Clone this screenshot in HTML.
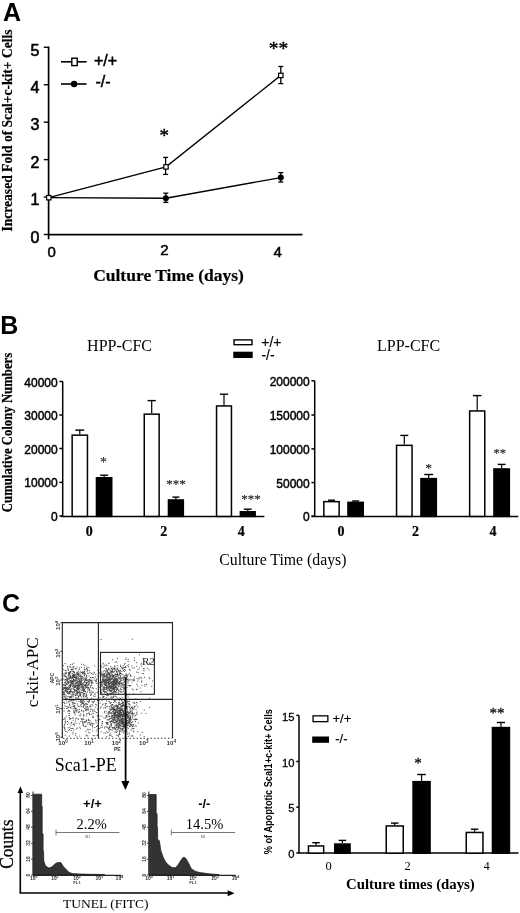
<!DOCTYPE html>
<html><head><meta charset="utf-8"><style>
html,body{margin:0;padding:0;background:#fff;}
svg{display:block;will-change:transform;}
</style></head><body>
<svg width="520" height="913" viewBox="0 0 520 913">
<text x="3" y="20.8" font-family="'Liberation Sans',sans-serif" font-size="25" font-weight="bold" text-anchor="start" >A</text>
<line x1="48.6" y1="46.5" x2="48.6" y2="239.3" stroke="#000" stroke-width="1.7"/>
<line x1="43.8" y1="234.5" x2="48.5" y2="234.5" stroke="#000" stroke-width="1.4"/>
<text x="39.5" y="242.8" font-family="'Liberation Sans',sans-serif" font-size="16" stroke="#000" stroke-width="0.6" text-anchor="end" >0</text>
<line x1="43.8" y1="197.06" x2="48.5" y2="197.06" stroke="#000" stroke-width="1.4"/>
<text x="39.5" y="205.36" font-family="'Liberation Sans',sans-serif" font-size="16" stroke="#000" stroke-width="0.6" text-anchor="end" >1</text>
<line x1="43.8" y1="159.62" x2="48.5" y2="159.62" stroke="#000" stroke-width="1.4"/>
<text x="39.5" y="167.92000000000002" font-family="'Liberation Sans',sans-serif" font-size="16" stroke="#000" stroke-width="0.6" text-anchor="end" >2</text>
<line x1="43.8" y1="122.18" x2="48.5" y2="122.18" stroke="#000" stroke-width="1.4"/>
<text x="39.5" y="130.48000000000002" font-family="'Liberation Sans',sans-serif" font-size="16" stroke="#000" stroke-width="0.6" text-anchor="end" >3</text>
<line x1="43.8" y1="84.74000000000001" x2="48.5" y2="84.74000000000001" stroke="#000" stroke-width="1.4"/>
<text x="39.5" y="93.04" font-family="'Liberation Sans',sans-serif" font-size="16" stroke="#000" stroke-width="0.6" text-anchor="end" >4</text>
<line x1="43.8" y1="47.30000000000001" x2="48.5" y2="47.30000000000001" stroke="#000" stroke-width="1.4"/>
<text x="39.5" y="55.60000000000001" font-family="'Liberation Sans',sans-serif" font-size="16" stroke="#000" stroke-width="0.6" text-anchor="end" >5</text>
<line x1="48" y1="234.6" x2="302.4" y2="234.6" stroke="#000" stroke-width="1.7"/>
<text x="51.7" y="257.3" font-family="'Liberation Sans',sans-serif" font-size="15" stroke="#000" stroke-width="0.5" text-anchor="middle" >0</text>
<text x="164.5" y="255" font-family="'Liberation Sans',sans-serif" font-size="15" stroke="#000" stroke-width="0.5" text-anchor="middle" >2</text>
<text x="277.7" y="256.7" font-family="'Liberation Sans',sans-serif" font-size="15" stroke="#000" stroke-width="0.5" text-anchor="middle" >4</text>
<polyline points="48.8,197.7 166,166.9 280.8,75.4" fill="none" stroke="#000" stroke-width="1.35"/>
<polyline points="48.8,197.7 165.9,198.2 280.8,177.6" fill="none" stroke="#000" stroke-width="1.35"/>
<line x1="165.6" y1="157.4" x2="165.6" y2="174.4" stroke="#000" stroke-width="1.3"/>
<line x1="163.1" y1="157.4" x2="168.1" y2="157.4" stroke="#000" stroke-width="1.3"/>
<line x1="163.1" y1="174.4" x2="168.1" y2="174.4" stroke="#000" stroke-width="1.3"/>
<line x1="280.8" y1="66.5" x2="280.8" y2="83.6" stroke="#000" stroke-width="1.3"/>
<line x1="278.3" y1="66.5" x2="283.3" y2="66.5" stroke="#000" stroke-width="1.3"/>
<line x1="278.3" y1="83.6" x2="283.3" y2="83.6" stroke="#000" stroke-width="1.3"/>
<line x1="165.8" y1="193.2" x2="165.8" y2="202.4" stroke="#000" stroke-width="1.3"/>
<line x1="163.3" y1="193.2" x2="168.3" y2="193.2" stroke="#000" stroke-width="1.3"/>
<line x1="163.3" y1="202.4" x2="168.3" y2="202.4" stroke="#000" stroke-width="1.3"/>
<line x1="280.8" y1="172.6" x2="280.8" y2="182" stroke="#000" stroke-width="1.3"/>
<line x1="278.3" y1="172.6" x2="283.3" y2="172.6" stroke="#000" stroke-width="1.3"/>
<line x1="278.3" y1="182" x2="283.3" y2="182" stroke="#000" stroke-width="1.3"/>
<circle cx="165.9" cy="198.2" r="3" fill="#000"/>
<circle cx="280.8" cy="177.6" r="3" fill="#000"/>
<rect x="46.599999999999994" y="195.5" width="4.4" height="4.4" fill="#fff" stroke="#000" stroke-width="1.2"/>
<rect x="163.8" y="164.70000000000002" width="4.4" height="4.4" fill="#fff" stroke="#000" stroke-width="1.2"/>
<rect x="278.6" y="73.2" width="4.4" height="4.4" fill="#fff" stroke="#000" stroke-width="1.2"/>
<text x="164.2" y="141.9" font-family="'Liberation Serif',serif" font-size="19" stroke="#000" stroke-width="0.4" text-anchor="middle" >*</text>
<text x="278.4" y="54.5" font-family="'Liberation Serif',serif" font-size="19.5" stroke="#000" stroke-width="0.4" text-anchor="middle" >**</text>
<line x1="61" y1="61.8" x2="86.6" y2="61.8" stroke="#000" stroke-width="1.6"/>
<rect x="71.8" y="58.2" width="5.4" height="7.4" fill="#fff" stroke="#000" stroke-width="1.4"/>
<line x1="61" y1="84" x2="86.6" y2="84" stroke="#000" stroke-width="1.6"/>
<circle cx="74.1" cy="84" r="3.2" fill="#000"/>
<text x="94" y="65.5" font-family="'Liberation Sans',sans-serif" font-size="16" stroke="#000" stroke-width="0.5" text-anchor="start" >+/+</text>
<text x="95.4" y="87" font-family="'Liberation Sans',sans-serif" font-size="16" stroke="#000" stroke-width="0.5" text-anchor="start" >-/-</text>
<text x="168.5" y="280.8" font-family="'Liberation Serif',serif" font-size="17.5" font-weight="bold" stroke="#000" stroke-width="0.2" text-anchor="middle" >Culture Time (days)</text>
<text x="0" y="0" font-family="'Liberation Serif',serif" font-size="14" font-weight="bold" stroke="#000" stroke-width="0.2" text-anchor="middle" transform="translate(12,130.5) rotate(-90) scale(0.97,1)">Increased Fold of Scal+c-kit+ Cells</text>
<text x="0.2" y="333.6" font-family="'Liberation Sans',sans-serif" font-size="25" font-weight="bold" text-anchor="start" >B</text>
<line x1="62.7" y1="381.5" x2="62.7" y2="516.8" stroke="#000" stroke-width="1.5"/>
<line x1="59.400000000000006" y1="381.5" x2="62.7" y2="381.5" stroke="#000" stroke-width="1.5"/>
<text x="57.7" y="386.5" font-family="'Liberation Sans',sans-serif" font-size="12" stroke="#000" stroke-width="0.45" text-anchor="end" >40000</text>
<line x1="59.400000000000006" y1="415" x2="62.7" y2="415" stroke="#000" stroke-width="1.5"/>
<text x="57.7" y="420" font-family="'Liberation Sans',sans-serif" font-size="12" stroke="#000" stroke-width="0.45" text-anchor="end" >30000</text>
<line x1="59.400000000000006" y1="448.5" x2="62.7" y2="448.5" stroke="#000" stroke-width="1.5"/>
<text x="57.7" y="453.5" font-family="'Liberation Sans',sans-serif" font-size="12" stroke="#000" stroke-width="0.45" text-anchor="end" >20000</text>
<line x1="59.400000000000006" y1="482.4" x2="62.7" y2="482.4" stroke="#000" stroke-width="1.5"/>
<text x="57.7" y="487.4" font-family="'Liberation Sans',sans-serif" font-size="12" stroke="#000" stroke-width="0.45" text-anchor="end" >10000</text>
<line x1="59.400000000000006" y1="516" x2="62.7" y2="516" stroke="#000" stroke-width="1.5"/>
<text x="57.7" y="521" font-family="'Liberation Sans',sans-serif" font-size="12" stroke="#000" stroke-width="0.45" text-anchor="end" >0</text>
<line x1="61" y1="516.4" x2="264.4" y2="516.4" stroke="#000" stroke-width="1.5"/>
<line x1="314.7" y1="380.8" x2="314.7" y2="516.8" stroke="#000" stroke-width="1.5"/>
<line x1="311.4" y1="380.8" x2="314.7" y2="380.8" stroke="#000" stroke-width="1.5"/>
<text x="309.7" y="385.8" font-family="'Liberation Sans',sans-serif" font-size="12" stroke="#000" stroke-width="0.45" text-anchor="end" >200000</text>
<line x1="311.4" y1="415" x2="314.7" y2="415" stroke="#000" stroke-width="1.5"/>
<text x="309.7" y="420" font-family="'Liberation Sans',sans-serif" font-size="12" stroke="#000" stroke-width="0.45" text-anchor="end" >150000</text>
<line x1="311.4" y1="448.9" x2="314.7" y2="448.9" stroke="#000" stroke-width="1.5"/>
<text x="309.7" y="453.9" font-family="'Liberation Sans',sans-serif" font-size="12" stroke="#000" stroke-width="0.45" text-anchor="end" >100000</text>
<line x1="311.4" y1="482.6" x2="314.7" y2="482.6" stroke="#000" stroke-width="1.5"/>
<text x="309.7" y="487.6" font-family="'Liberation Sans',sans-serif" font-size="12" stroke="#000" stroke-width="0.45" text-anchor="end" >50000</text>
<line x1="311.4" y1="516.1" x2="314.7" y2="516.1" stroke="#000" stroke-width="1.5"/>
<text x="309.7" y="521.1" font-family="'Liberation Sans',sans-serif" font-size="12" stroke="#000" stroke-width="0.45" text-anchor="end" >0</text>
<line x1="311.5" y1="516.4" x2="518.3" y2="516.4" stroke="#000" stroke-width="1.5"/>
<line x1="79.80000000000001" y1="430.1" x2="79.80000000000001" y2="434.4" stroke="#000" stroke-width="1.2"/>
<line x1="75.30000000000001" y1="430.1" x2="84.30000000000001" y2="430.1" stroke="#000" stroke-width="1.4"/>
<rect x="72.15" y="435.15" width="15.299999999999997" height="81.25" fill="#fff" stroke="#000" stroke-width="1.5"/>
<line x1="104.1" y1="475.2" x2="104.1" y2="477" stroke="#000" stroke-width="1.2"/>
<line x1="100.1" y1="475.2" x2="108.1" y2="475.2" stroke="#000" stroke-width="1.4"/>
<rect x="96.45" y="477.75" width="15.299999999999997" height="38.64999999999998" fill="#000" stroke="#000" stroke-width="1.5"/>
<line x1="151.7" y1="400.6" x2="151.7" y2="413.4" stroke="#000" stroke-width="1.2"/>
<line x1="147.54999999999998" y1="400.6" x2="155.85" y2="400.6" stroke="#000" stroke-width="1.4"/>
<rect x="144.25" y="414.15" width="14.900000000000006" height="102.25" fill="#fff" stroke="#000" stroke-width="1.5"/>
<line x1="175.89999999999998" y1="497.1" x2="175.89999999999998" y2="499.2" stroke="#000" stroke-width="1.2"/>
<line x1="172.39999999999998" y1="497.1" x2="179.39999999999998" y2="497.1" stroke="#000" stroke-width="1.4"/>
<rect x="168.45" y="499.95" width="14.900000000000006" height="16.44999999999999" fill="#000" stroke="#000" stroke-width="1.5"/>
<line x1="224.0" y1="394.2" x2="224.0" y2="405.2" stroke="#000" stroke-width="1.2"/>
<line x1="219.9" y1="394.2" x2="228.1" y2="394.2" stroke="#000" stroke-width="1.4"/>
<rect x="216.55" y="405.95" width="14.899999999999977" height="110.44999999999999" fill="#fff" stroke="#000" stroke-width="1.5"/>
<line x1="247.75" y1="509.2" x2="247.75" y2="511" stroke="#000" stroke-width="1.2"/>
<line x1="243.85" y1="509.2" x2="251.65" y2="509.2" stroke="#000" stroke-width="1.4"/>
<rect x="240.35" y="511.75" width="14.800000000000011" height="4.649999999999977" fill="#000" stroke="#000" stroke-width="1.5"/>
<line x1="331.5" y1="500.2" x2="331.5" y2="500.9" stroke="#000" stroke-width="1.2"/>
<line x1="328.0" y1="500.2" x2="335.0" y2="500.2" stroke="#000" stroke-width="1.4"/>
<rect x="323.85" y="501.65" width="15.299999999999955" height="14.75" fill="#fff" stroke="#000" stroke-width="1.5"/>
<line x1="355.6" y1="501" x2="355.6" y2="501.6" stroke="#000" stroke-width="1.2"/>
<line x1="352.1" y1="501" x2="359.1" y2="501" stroke="#000" stroke-width="1.4"/>
<rect x="347.95" y="502.35" width="15.300000000000011" height="14.049999999999955" fill="#000" stroke="#000" stroke-width="1.5"/>
<line x1="404.3" y1="435.4" x2="404.3" y2="444.6" stroke="#000" stroke-width="1.2"/>
<line x1="400.3" y1="435.4" x2="408.3" y2="435.4" stroke="#000" stroke-width="1.4"/>
<rect x="396.55" y="445.35" width="15.5" height="71.04999999999995" fill="#fff" stroke="#000" stroke-width="1.5"/>
<line x1="428.65" y1="474.5" x2="428.65" y2="477.9" stroke="#000" stroke-width="1.2"/>
<line x1="424.2" y1="474.5" x2="433.09999999999997" y2="474.5" stroke="#000" stroke-width="1.4"/>
<rect x="420.95" y="478.65" width="15.400000000000034" height="37.75" fill="#000" stroke="#000" stroke-width="1.5"/>
<line x1="477.2" y1="395.6" x2="477.2" y2="410.2" stroke="#000" stroke-width="1.2"/>
<line x1="472.95" y1="395.6" x2="481.45" y2="395.6" stroke="#000" stroke-width="1.4"/>
<rect x="469.65" y="410.95" width="15.100000000000023" height="105.44999999999999" fill="#fff" stroke="#000" stroke-width="1.5"/>
<line x1="501.65" y1="464.4" x2="501.65" y2="468.2" stroke="#000" stroke-width="1.2"/>
<line x1="497.75" y1="464.4" x2="505.54999999999995" y2="464.4" stroke="#000" stroke-width="1.4"/>
<rect x="493.95" y="468.95" width="15.400000000000034" height="47.44999999999999" fill="#000" stroke="#000" stroke-width="1.5"/>
<text x="103.6" y="467.2" font-family="'Liberation Serif',serif" font-size="14" stroke="#000" stroke-width="0.15" text-anchor="middle" fill="#333">*</text>
<text x="176.1" y="487.9" font-family="'Liberation Serif',serif" font-size="13" stroke="#000" stroke-width="0.15" text-anchor="middle" fill="#333">***</text>
<text x="251" y="503.2" font-family="'Liberation Serif',serif" font-size="13" stroke="#000" stroke-width="0.15" text-anchor="middle" fill="#333">***</text>
<text x="428.7" y="472.3" font-family="'Liberation Serif',serif" font-size="13.5" stroke="#000" stroke-width="0.15" text-anchor="middle" fill="#333">*</text>
<text x="499.8" y="456.9" font-family="'Liberation Serif',serif" font-size="12.5" stroke="#000" stroke-width="0.15" text-anchor="middle" fill="#333">**</text>
<text x="89.2" y="536" font-family="'Liberation Serif',serif" font-size="14" font-weight="bold" stroke="#000" stroke-width="0.2" text-anchor="middle" >0</text>
<text x="163.7" y="536" font-family="'Liberation Serif',serif" font-size="14" font-weight="bold" stroke="#000" stroke-width="0.2" text-anchor="middle" >2</text>
<text x="241.3" y="536" font-family="'Liberation Serif',serif" font-size="14" font-weight="bold" stroke="#000" stroke-width="0.2" text-anchor="middle" >4</text>
<text x="341" y="536" font-family="'Liberation Serif',serif" font-size="14" font-weight="bold" stroke="#000" stroke-width="0.2" text-anchor="middle" >0</text>
<text x="415.5" y="536" font-family="'Liberation Serif',serif" font-size="14" font-weight="bold" stroke="#000" stroke-width="0.2" text-anchor="middle" >2</text>
<text x="492.9" y="536" font-family="'Liberation Serif',serif" font-size="14" font-weight="bold" stroke="#000" stroke-width="0.2" text-anchor="middle" >4</text>
<text x="87.1" y="351.1" font-family="'Liberation Serif',serif" font-size="16" text-anchor="start" >HPP-CFC</text>
<text x="377" y="351.2" font-family="'Liberation Serif',serif" font-size="16" text-anchor="start" >LPP-CFC</text>
<rect x="234" y="339.9" width="18" height="4.8" fill="#fff" stroke="#000" stroke-width="1.4"/>
<rect x="233.3" y="351.7" width="19.4" height="6.3" fill="#000" stroke="none" stroke-width="0"/>
<text x="261.3" y="347.3" font-family="'Liberation Sans',sans-serif" font-size="14" stroke="#000" stroke-width="0.15" text-anchor="start" >+/+</text>
<text x="261.4" y="359.5" font-family="'Liberation Sans',sans-serif" font-size="14" stroke="#000" stroke-width="0.15" text-anchor="start" >-/-</text>
<text x="282.9" y="564.6" font-family="'Liberation Serif',serif" font-size="15.8" text-anchor="middle" >Culture Time (days)</text>
<text x="0" y="0" font-family="'Liberation Serif',serif" font-size="13.6" font-weight="bold" stroke="#000" stroke-width="0.25" text-anchor="middle" transform="translate(12.1,432.5) rotate(-90) scale(0.938,1)">Cumulative Colony Numbers</text>
<text x="2" y="612.4" font-family="'Liberation Sans',sans-serif" font-size="25" font-weight="bold" text-anchor="start" >C</text>
<filter id="bl" x="0" y="0" width="1" height="1"><feGaussianBlur stdDeviation="0.25"/></filter>
<path d="M85.9 678.4h1v1h-1zM79.7 692.9h1v1h-1zM82.5 687.3h1v1h-1zM92.4 691.8h1v1h-1zM72.8 680.5h1v1h-1zM104.8 680.4h1v1h-1zM64.6 672.8h1v1h-1zM75.1 684.3h1v1h-1zM69.9 682.4h1v1h-1zM77.3 689.2h1v1h-1zM87.2 684.9h1v1h-1zM64.7 684.9h1v1h-1zM113.6 682.6h1v1h-1zM84.1 671.1h1v1h-1zM70.5 689.0h1v1h-1zM72.9 686.3h1v1h-1zM75.2 673.9h1v1h-1zM80.8 675.7h1v1h-1zM96.5 678.5h1v1h-1zM82.2 683.0h1v1h-1zM85.4 677.6h1v1h-1zM86.0 681.9h1v1h-1zM89.2 688.6h1v1h-1zM75.7 676.0h1v1h-1zM83.2 687.2h1v1h-1zM93.7 679.6h1v1h-1zM80.7 687.6h1v1h-1zM77.4 684.9h1v1h-1zM76.2 677.6h1v1h-1zM81.1 696.6h1v1h-1zM85.7 692.5h1v1h-1zM83.3 689.3h1v1h-1zM76.2 689.9h1v1h-1zM95.3 680.1h1v1h-1zM65.7 700.6h1v1h-1zM76.9 691.7h1v1h-1zM84.5 672.8h1v1h-1zM103.2 699.0h1v1h-1zM76.1 689.8h1v1h-1zM75.5 675.0h1v1h-1zM72.7 686.4h1v1h-1zM87.4 689.4h1v1h-1zM74.7 695.2h1v1h-1zM64.9 690.1h1v1h-1zM87.3 680.4h1v1h-1zM76.8 687.8h1v1h-1zM92.6 674.0h1v1h-1zM74.0 688.8h1v1h-1zM83.7 703.8h1v1h-1zM86.1 674.7h1v1h-1zM69.1 685.0h1v1h-1zM103.9 688.6h1v1h-1zM75.4 697.0h1v1h-1zM73.0 699.8h1v1h-1zM65.8 678.7h1v1h-1zM82.7 695.8h1v1h-1zM81.8 685.7h1v1h-1zM66.7 678.2h1v1h-1zM81.0 680.0h1v1h-1zM83.5 683.7h1v1h-1zM70.0 684.1h1v1h-1zM79.1 690.7h1v1h-1zM68.3 680.9h1v1h-1zM91.4 681.4h1v1h-1zM68.3 671.9h1v1h-1zM76.0 684.9h1v1h-1zM100.2 685.2h1v1h-1zM90.9 684.7h1v1h-1zM87.4 688.2h1v1h-1zM71.9 663.7h1v1h-1zM72.5 669.0h1v1h-1zM81.2 663.8h1v1h-1zM63.1 694.0h1v1h-1zM93.7 672.4h1v1h-1zM84.2 674.1h1v1h-1zM65.7 676.8h1v1h-1zM89.0 689.2h1v1h-1zM98.7 682.2h1v1h-1zM72.4 674.2h1v1h-1zM72.5 671.2h1v1h-1zM91.3 690.5h1v1h-1zM90.0 685.3h1v1h-1zM65.4 683.8h1v1h-1zM69.5 673.0h1v1h-1zM73.9 684.4h1v1h-1zM68.3 695.9h1v1h-1zM76.1 688.2h1v1h-1zM88.6 675.6h1v1h-1zM65.7 694.8h1v1h-1zM78.1 692.1h1v1h-1zM83.2 664.3h1v1h-1zM82.6 676.9h1v1h-1zM64.9 679.1h1v1h-1zM83.2 691.0h1v1h-1zM86.1 668.1h1v1h-1zM72.8 688.4h1v1h-1zM64.8 685.2h1v1h-1zM76.8 692.1h1v1h-1zM64.1 675.5h1v1h-1zM64.8 698.8h1v1h-1zM87.1 681.9h1v1h-1zM76.7 684.0h1v1h-1zM76.4 681.1h1v1h-1zM70.0 671.7h1v1h-1zM66.3 697.9h1v1h-1zM80.4 683.6h1v1h-1zM71.4 683.6h1v1h-1zM78.2 677.2h1v1h-1zM76.4 685.2h1v1h-1zM65.0 675.9h1v1h-1zM70.8 677.5h1v1h-1zM66.6 683.9h1v1h-1zM87.5 683.7h1v1h-1zM72.3 677.5h1v1h-1zM72.5 691.2h1v1h-1zM69.3 672.7h1v1h-1zM78.3 680.9h1v1h-1zM91.5 677.1h1v1h-1zM83.0 690.2h1v1h-1zM62.9 691.2h1v1h-1zM89.6 672.0h1v1h-1zM86.6 679.6h1v1h-1zM69.3 678.0h1v1h-1zM70.1 666.6h1v1h-1zM79.9 701.8h1v1h-1zM106.8 680.0h1v1h-1zM80.9 676.4h1v1h-1zM85.2 687.8h1v1h-1zM71.1 683.2h1v1h-1zM75.6 679.9h1v1h-1zM76.3 677.7h1v1h-1zM63.2 696.6h1v1h-1zM78.3 686.9h1v1h-1zM83.8 671.4h1v1h-1zM87.2 679.5h1v1h-1zM78.8 681.8h1v1h-1zM76.6 693.8h1v1h-1zM69.2 697.1h1v1h-1zM64.6 674.6h1v1h-1zM82.5 673.4h1v1h-1zM69.6 691.2h1v1h-1zM88.5 667.0h1v1h-1zM80.1 700.0h1v1h-1zM88.3 680.8h1v1h-1zM66.8 680.3h1v1h-1zM71.8 681.7h1v1h-1zM88.2 680.9h1v1h-1zM72.4 679.9h1v1h-1zM100.2 677.5h1v1h-1zM72.4 693.1h1v1h-1zM82.9 689.9h1v1h-1zM84.3 665.3h1v1h-1zM63.6 684.2h1v1h-1zM80.0 694.6h1v1h-1zM79.6 680.9h1v1h-1zM74.5 681.1h1v1h-1zM77.0 689.1h1v1h-1zM69.9 675.7h1v1h-1zM63.7 692.9h1v1h-1zM89.4 691.9h1v1h-1zM84.3 690.5h1v1h-1zM74.0 689.0h1v1h-1zM65.2 689.5h1v1h-1zM67.0 682.0h1v1h-1zM78.8 695.2h1v1h-1zM64.5 674.6h1v1h-1zM83.8 673.0h1v1h-1zM79.4 677.9h1v1h-1zM72.7 666.6h1v1h-1zM82.6 678.5h1v1h-1zM63.2 701.7h1v1h-1zM78.9 679.9h1v1h-1zM75.3 697.5h1v1h-1zM73.7 687.1h1v1h-1zM80.2 674.8h1v1h-1zM75.5 678.5h1v1h-1zM82.0 683.7h1v1h-1zM63.1 664.9h1v1h-1zM79.8 682.1h1v1h-1zM75.7 686.2h1v1h-1zM76.6 684.5h1v1h-1zM67.9 680.9h1v1h-1zM77.2 688.6h1v1h-1zM78.8 681.2h1v1h-1zM101.3 691.4h1v1h-1zM67.8 691.9h1v1h-1zM72.4 682.1h1v1h-1zM67.0 666.5h1v1h-1zM79.5 692.0h1v1h-1zM73.2 673.8h1v1h-1zM76.4 688.1h1v1h-1zM71.9 682.9h1v1h-1zM90.9 672.9h1v1h-1zM67.3 665.8h1v1h-1zM65.6 676.3h1v1h-1zM95.6 681.2h1v1h-1zM72.6 702.8h1v1h-1zM73.3 667.4h1v1h-1zM78.8 674.6h1v1h-1zM93.7 671.8h1v1h-1zM67.0 668.5h1v1h-1zM75.2 673.9h1v1h-1zM73.2 679.6h1v1h-1zM66.6 691.5h1v1h-1zM85.2 683.6h1v1h-1zM63.2 673.4h1v1h-1zM77.2 704.5h1v1h-1zM68.5 675.9h1v1h-1zM65.6 673.1h1v1h-1zM91.2 683.0h1v1h-1zM67.9 668.5h1v1h-1zM76.6 682.8h1v1h-1zM73.5 692.1h1v1h-1zM81.5 684.9h1v1h-1zM70.1 685.9h1v1h-1zM73.9 702.6h1v1h-1zM89.2 680.6h1v1h-1zM91.1 682.6h1v1h-1zM75.7 679.7h1v1h-1zM100.6 688.8h1v1h-1zM81.3 691.6h1v1h-1zM80.8 692.2h1v1h-1zM70.8 681.0h1v1h-1zM85.8 679.8h1v1h-1zM67.5 688.5h1v1h-1zM65.4 673.4h1v1h-1zM70.0 697.0h1v1h-1zM73.4 684.4h1v1h-1zM74.1 685.7h1v1h-1zM85.1 695.6h1v1h-1zM74.0 680.1h1v1h-1zM102.8 681.5h1v1h-1zM97.3 691.7h1v1h-1zM82.8 681.9h1v1h-1zM71.7 673.0h1v1h-1zM95.9 680.8h1v1h-1zM69.3 680.3h1v1h-1zM64.6 676.0h1v1h-1zM75.1 685.8h1v1h-1zM67.9 682.2h1v1h-1zM65.0 684.9h1v1h-1zM63.1 678.4h1v1h-1zM76.6 672.1h1v1h-1zM103.6 682.7h1v1h-1zM73.1 676.4h1v1h-1zM93.1 695.5h1v1h-1zM77.6 670.7h1v1h-1zM67.9 688.5h1v1h-1zM67.9 672.3h1v1h-1zM74.2 677.2h1v1h-1zM74.2 708.1h1v1h-1zM95.3 673.7h1v1h-1zM78.1 683.8h1v1h-1zM72.3 692.4h1v1h-1zM70.0 680.1h1v1h-1zM69.5 682.1h1v1h-1zM89.4 690.0h1v1h-1zM64.4 690.3h1v1h-1zM76.7 691.0h1v1h-1zM73.3 665.8h1v1h-1zM79.4 685.0h1v1h-1zM80.1 671.3h1v1h-1zM75.0 676.8h1v1h-1zM65.8 686.2h1v1h-1zM78.2 675.0h1v1h-1zM67.1 693.1h1v1h-1zM73.3 662.7h1v1h-1zM63.6 686.8h1v1h-1zM94.1 693.5h1v1h-1zM78.4 684.8h1v1h-1zM70.0 676.0h1v1h-1zM74.8 679.5h1v1h-1zM78.0 695.9h1v1h-1zM82.9 686.8h1v1h-1zM71.1 669.3h1v1h-1zM72.6 687.9h1v1h-1zM70.0 686.3h1v1h-1zM70.1 671.7h1v1h-1zM98.8 672.5h1v1h-1zM85.0 678.0h1v1h-1zM77.3 675.7h1v1h-1zM69.0 691.3h1v1h-1zM97.3 675.4h1v1h-1zM74.1 691.5h1v1h-1zM66.4 689.4h1v1h-1zM64.6 688.4h1v1h-1zM79.2 693.9h1v1h-1zM78.4 672.3h1v1h-1zM82.0 673.1h1v1h-1zM83.0 696.6h1v1h-1zM81.1 678.0h1v1h-1zM88.3 684.5h1v1h-1zM91.0 680.3h1v1h-1zM75.5 679.9h1v1h-1zM78.3 684.9h1v1h-1zM71.9 663.8h1v1h-1zM88.7 689.5h1v1h-1zM86.3 694.7h1v1h-1zM68.7 677.6h1v1h-1zM77.8 698.1h1v1h-1zM65.4 688.0h1v1h-1zM91.6 680.3h1v1h-1zM70.6 669.1h1v1h-1zM84.6 678.3h1v1h-1zM82.2 671.2h1v1h-1zM87.2 670.0h1v1h-1zM86.6 666.7h1v1h-1zM90.6 679.6h1v1h-1zM78.0 674.1h1v1h-1zM68.1 685.4h1v1h-1zM68.8 686.8h1v1h-1zM77.6 692.1h1v1h-1zM65.7 706.0h1v1h-1zM83.6 685.8h1v1h-1zM87.0 691.6h1v1h-1zM75.2 677.4h1v1h-1zM86.3 686.8h1v1h-1zM79.6 684.0h1v1h-1zM77.4 688.8h1v1h-1zM75.7 697.2h1v1h-1zM66.9 679.4h1v1h-1zM77.9 689.7h1v1h-1zM83.5 696.4h1v1h-1zM68.3 693.5h1v1h-1zM79.6 673.6h1v1h-1zM72.4 701.8h1v1h-1zM83.4 678.8h1v1h-1zM65.6 683.7h1v1h-1zM101.7 689.7h1v1h-1zM77.8 674.6h1v1h-1zM68.4 710.1h1v1h-1zM69.1 677.5h1v1h-1zM87.5 683.7h1v1h-1zM70.3 671.0h1v1h-1zM77.9 687.4h1v1h-1zM69.9 689.3h1v1h-1zM83.8 675.1h1v1h-1zM72.5 694.1h1v1h-1zM86.0 695.5h1v1h-1zM96.3 683.1h1v1h-1zM86.7 669.2h1v1h-1zM82.3 686.5h1v1h-1zM72.9 679.0h1v1h-1zM89.3 679.7h1v1h-1zM80.4 677.0h1v1h-1zM77.0 673.9h1v1h-1zM78.5 681.0h1v1h-1zM77.8 677.5h1v1h-1zM86.4 697.2h1v1h-1zM70.1 690.2h1v1h-1zM83.1 686.5h1v1h-1zM83.5 688.6h1v1h-1zM82.4 671.5h1v1h-1zM85.6 683.7h1v1h-1zM71.8 676.6h1v1h-1zM111.0 684.8h1v1h-1zM76.5 677.2h1v1h-1zM66.6 678.0h1v1h-1zM63.4 690.9h1v1h-1zM70.8 690.8h1v1h-1zM73.7 689.0h1v1h-1zM72.8 675.0h1v1h-1zM88.5 679.1h1v1h-1zM72.2 675.0h1v1h-1zM76.5 679.5h1v1h-1zM77.4 686.1h1v1h-1zM65.7 670.3h1v1h-1zM79.2 691.3h1v1h-1zM82.4 672.7h1v1h-1zM81.3 686.5h1v1h-1zM77.4 686.9h1v1h-1zM70.1 684.9h1v1h-1zM85.1 678.5h1v1h-1zM76.4 666.4h1v1h-1zM65.9 688.3h1v1h-1zM72.2 683.8h1v1h-1zM95.1 681.2h1v1h-1zM65.2 672.6h1v1h-1zM84.7 683.9h1v1h-1zM64.5 693.9h1v1h-1zM83.2 688.4h1v1h-1zM81.5 672.0h1v1h-1zM85.1 695.9h1v1h-1zM86.4 676.5h1v1h-1zM65.5 691.5h1v1h-1zM85.9 694.1h1v1h-1zM88.4 682.1h1v1h-1zM69.1 666.3h1v1h-1zM83.4 703.5h1v1h-1zM68.4 678.7h1v1h-1zM81.8 686.4h1v1h-1zM65.4 690.7h1v1h-1zM97.0 700.1h1v1h-1zM91.1 697.7h1v1h-1zM65.3 680.4h1v1h-1zM105.5 667.9h1v1h-1zM80.7 671.9h1v1h-1zM90.1 694.7h1v1h-1zM67.9 701.6h1v1h-1zM74.9 694.7h1v1h-1zM77.7 678.0h1v1h-1zM69.4 681.9h1v1h-1zM81.4 684.1h1v1h-1zM102.3 681.3h1v1h-1zM68.4 676.5h1v1h-1zM64.7 670.0h1v1h-1zM74.7 681.5h1v1h-1zM78.2 692.6h1v1h-1zM81.4 690.0h1v1h-1zM67.3 680.6h1v1h-1zM64.7 682.1h1v1h-1zM64.2 679.6h1v1h-1zM71.9 681.1h1v1h-1zM70.8 678.6h1v1h-1zM89.7 679.9h1v1h-1zM75.0 668.0h1v1h-1zM86.4 668.0h1v1h-1zM63.2 688.2h1v1h-1zM72.3 685.7h1v1h-1zM70.1 663.9h1v1h-1zM72.2 670.9h1v1h-1zM74.1 675.3h1v1h-1zM70.2 681.1h1v1h-1zM83.3 689.9h1v1h-1zM91.5 687.4h1v1h-1zM65.2 681.9h1v1h-1zM69.8 691.5h1v1h-1zM74.4 686.4h1v1h-1zM100.5 670.6h1v1h-1zM77.5 697.7h1v1h-1zM91.3 692.3h1v1h-1zM84.6 690.8h1v1h-1zM74.4 682.9h1v1h-1zM74.4 690.6h1v1h-1zM72.0 685.9h1v1h-1zM91.4 672.9h1v1h-1zM65.0 688.1h1v1h-1zM70.8 681.6h1v1h-1zM99.2 686.7h1v1h-1zM69.0 692.9h1v1h-1zM104.2 673.0h1v1h-1zM66.0 684.0h1v1h-1zM66.4 702.5h1v1h-1zM80.3 679.4h1v1h-1zM79.9 675.8h1v1h-1zM66.7 684.0h1v1h-1zM102.7 662.7h1v1h-1zM79.0 695.2h1v1h-1zM82.9 700.3h1v1h-1zM79.4 684.3h1v1h-1zM72.4 675.3h1v1h-1zM93.6 672.4h1v1h-1zM72.5 678.3h1v1h-1zM64.6 663.0h1v1h-1zM69.4 684.2h1v1h-1zM75.7 690.6h1v1h-1zM72.1 677.2h1v1h-1zM77.7 689.0h1v1h-1zM63.2 669.3h1v1h-1zM86.0 675.0h1v1h-1zM75.3 690.5h1v1h-1zM89.9 677.1h1v1h-1zM71.1 695.7h1v1h-1zM102.9 696.8h1v1h-1zM70.4 682.5h1v1h-1zM66.0 678.7h1v1h-1zM73.9 699.2h1v1h-1zM82.4 686.8h1v1h-1zM74.3 676.2h1v1h-1zM71.2 694.2h1v1h-1zM84.0 700.7h1v1h-1zM77.1 682.8h1v1h-1zM66.4 683.0h1v1h-1zM62.8 693.2h1v1h-1zM77.0 672.4h1v1h-1zM68.2 673.0h1v1h-1zM81.1 681.3h1v1h-1zM75.3 677.7h1v1h-1zM67.2 678.9h1v1h-1zM78.8 667.5h1v1h-1zM75.2 693.4h1v1h-1zM76.8 694.7h1v1h-1zM70.8 683.0h1v1h-1zM76.9 687.7h1v1h-1zM88.0 684.2h1v1h-1zM72.3 699.1h1v1h-1zM97.5 691.6h1v1h-1zM76.3 676.6h1v1h-1zM80.3 689.2h1v1h-1zM84.1 685.1h1v1h-1zM63.4 675.4h1v1h-1zM72.5 694.9h1v1h-1zM92.9 691.8h1v1h-1zM78.4 689.1h1v1h-1zM83.9 694.6h1v1h-1zM84.3 669.2h1v1h-1zM85.4 686.5h1v1h-1zM68.5 687.7h1v1h-1zM77.5 682.5h1v1h-1zM80.7 682.6h1v1h-1zM82.6 684.6h1v1h-1zM79.1 679.8h1v1h-1zM66.1 687.7h1v1h-1zM69.7 684.6h1v1h-1zM113.1 689.4h1v1h-1zM75.6 668.4h1v1h-1zM75.2 689.8h1v1h-1zM65.5 680.9h1v1h-1zM66.9 689.2h1v1h-1zM90.4 681.5h1v1h-1zM85.8 685.3h1v1h-1zM71.5 680.5h1v1h-1zM63.8 694.6h1v1h-1zM84.6 673.9h1v1h-1zM84.1 676.4h1v1h-1zM76.4 691.1h1v1h-1zM80.1 693.4h1v1h-1zM78.2 688.2h1v1h-1zM77.0 692.9h1v1h-1zM69.3 692.1h1v1h-1zM92.1 682.4h1v1h-1zM79.3 678.4h1v1h-1zM70.5 685.3h1v1h-1zM69.9 675.0h1v1h-1zM73.6 684.7h1v1h-1zM77.9 689.4h1v1h-1zM71.9 676.1h1v1h-1zM69.5 687.0h1v1h-1zM84.4 679.7h1v1h-1zM75.9 668.6h1v1h-1zM76.0 682.0h1v1h-1zM68.8 691.0h1v1h-1zM95.5 692.3h1v1h-1zM64.6 696.8h1v1h-1zM70.0 682.6h1v1h-1zM67.0 687.1h1v1h-1zM80.6 684.3h1v1h-1zM71.5 681.7h1v1h-1zM69.2 691.7h1v1h-1zM67.8 681.7h1v1h-1zM71.5 676.3h1v1h-1zM71.3 669.8h1v1h-1zM78.9 687.9h1v1h-1zM70.4 697.0h1v1h-1zM64.2 688.0h1v1h-1zM79.7 678.2h1v1h-1zM71.1 691.0h1v1h-1zM74.7 685.5h1v1h-1zM90.7 684.9h1v1h-1zM84.0 681.8h1v1h-1zM77.9 696.5h1v1h-1zM79.9 678.2h1v1h-1zM70.5 680.1h1v1h-1zM63.2 686.9h1v1h-1zM85.0 686.3h1v1h-1zM67.4 692.3h1v1h-1zM72.7 688.2h1v1h-1zM62.9 688.9h1v1h-1zM82.9 694.5h1v1h-1zM74.3 687.0h1v1h-1zM67.1 690.9h1v1h-1zM83.3 692.7h1v1h-1zM69.4 672.1h1v1h-1zM73.2 681.2h1v1h-1zM65.1 688.4h1v1h-1zM85.3 686.5h1v1h-1zM87.2 686.5h1v1h-1zM69.8 689.1h1v1h-1zM85.0 684.2h1v1h-1zM86.1 675.7h1v1h-1zM72.7 696.3h1v1h-1zM79.3 692.3h1v1h-1zM63.8 692.0h1v1h-1zM93.3 677.5h1v1h-1zM63.5 688.0h1v1h-1zM70.3 699.7h1v1h-1zM82.6 676.9h1v1h-1zM76.8 681.7h1v1h-1zM83.4 691.1h1v1h-1zM69.9 690.9h1v1h-1zM80.8 682.3h1v1h-1zM77.1 689.1h1v1h-1zM70.3 677.0h1v1h-1zM89.0 683.1h1v1h-1zM67.0 687.1h1v1h-1zM84.6 681.4h1v1h-1zM66.6 696.2h1v1h-1zM67.9 670.1h1v1h-1zM95.8 679.2h1v1h-1zM83.0 693.6h1v1h-1zM67.3 688.4h1v1h-1zM73.9 671.9h1v1h-1zM74.7 689.8h1v1h-1zM70.6 688.0h1v1h-1zM67.8 682.6h1v1h-1zM78.2 684.3h1v1h-1zM89.0 691.4h1v1h-1zM84.0 689.4h1v1h-1zM75.9 672.8h1v1h-1zM86.6 698.4h1v1h-1zM76.7 680.8h1v1h-1zM73.7 693.7h1v1h-1zM77.4 674.4h1v1h-1zM72.1 676.3h1v1h-1zM71.7 675.2h1v1h-1zM63.8 696.1h1v1h-1zM86.4 668.9h1v1h-1zM69.5 670.9h1v1h-1zM84.5 668.9h1v1h-1zM82.2 689.2h1v1h-1zM69.8 677.3h1v1h-1zM74.8 684.4h1v1h-1zM80.3 682.1h1v1h-1zM69.2 674.3h1v1h-1zM65.8 676.3h1v1h-1zM106.9 672.0h1v1h-1zM92.1 687.3h1v1h-1zM76.6 684.8h1v1h-1zM69.6 697.2h1v1h-1zM80.1 682.8h1v1h-1zM72.7 684.8h1v1h-1zM66.8 688.5h1v1h-1zM81.1 666.7h1v1h-1zM71.5 691.8h1v1h-1zM85.8 681.9h1v1h-1zM68.8 672.4h1v1h-1zM76.1 678.2h1v1h-1zM76.6 686.8h1v1h-1zM82.3 680.2h1v1h-1zM67.9 683.3h1v1h-1zM72.9 684.6h1v1h-1zM67.9 681.0h1v1h-1zM67.2 677.9h1v1h-1zM75.9 693.2h1v1h-1zM67.8 688.2h1v1h-1zM78.2 684.0h1v1h-1zM82.1 678.2h1v1h-1zM80.7 685.7h1v1h-1zM81.1 700.3h1v1h-1zM78.2 674.5h1v1h-1zM88.2 687.0h1v1h-1zM64.7 672.5h1v1h-1zM69.2 704.0h1v1h-1zM72.8 677.5h1v1h-1zM81.2 683.9h1v1h-1zM77.5 685.4h1v1h-1zM68.7 693.1h1v1h-1zM82.2 683.4h1v1h-1zM75.7 682.7h1v1h-1zM79.1 668.8h1v1h-1zM83.6 669.4h1v1h-1zM79.5 682.6h1v1h-1zM85.6 680.2h1v1h-1zM71.5 676.4h1v1h-1zM76.2 681.9h1v1h-1zM66.4 680.0h1v1h-1zM65.2 688.6h1v1h-1zM68.1 688.8h1v1h-1zM82.7 678.5h1v1h-1zM83.0 687.5h1v1h-1zM73.6 676.8h1v1h-1zM73.4 671.7h1v1h-1zM70.8 677.9h1v1h-1zM79.2 686.1h1v1h-1zM66.5 690.7h1v1h-1zM88.2 683.6h1v1h-1zM65.3 687.5h1v1h-1zM80.9 700.8h1v1h-1zM65.3 696.6h1v1h-1zM101.6 699.8h1v1h-1zM76.3 692.1h1v1h-1zM72.0 677.6h1v1h-1zM71.4 696.4h1v1h-1zM84.0 680.4h1v1h-1zM78.6 690.7h1v1h-1zM80.8 682.7h1v1h-1zM66.3 676.4h1v1h-1zM68.9 678.1h1v1h-1zM84.5 673.1h1v1h-1zM91.2 694.3h1v1h-1zM69.1 673.8h1v1h-1zM67.7 674.9h1v1h-1zM67.5 687.3h1v1h-1zM70.9 682.8h1v1h-1zM64.9 676.0h1v1h-1zM80.3 680.8h1v1h-1zM73.2 675.2h1v1h-1zM99.5 702.5h1v1h-1zM65.2 683.4h1v1h-1zM83.3 672.0h1v1h-1zM94.9 676.5h1v1h-1zM78.2 672.7h1v1h-1zM78.4 682.9h1v1h-1zM87.0 672.7h1v1h-1zM73.9 699.3h1v1h-1zM79.3 678.6h1v1h-1zM70.8 695.7h1v1h-1zM87.7 688.1h1v1h-1zM77.2 672.8h1v1h-1zM75.1 699.1h1v1h-1zM86.6 670.8h1v1h-1zM76.0 678.1h1v1h-1zM70.3 686.1h1v1h-1zM84.8 684.9h1v1h-1zM89.0 670.2h1v1h-1zM79.6 686.8h1v1h-1zM106.1 694.7h1v1h-1zM78.5 695.2h1v1h-1zM87.8 672.8h1v1h-1zM79.8 695.6h1v1h-1zM72.1 683.7h1v1h-1zM68.4 689.6h1v1h-1zM67.3 677.7h1v1h-1zM76.7 687.3h1v1h-1zM69.3 673.5h1v1h-1zM78.1 686.2h1v1h-1zM89.4 678.5h1v1h-1zM69.0 687.6h1v1h-1zM92.4 682.6h1v1h-1zM73.0 674.5h1v1h-1zM69.5 691.6h1v1h-1zM84.3 693.1h1v1h-1zM62.9 688.4h1v1h-1zM63.3 694.5h1v1h-1zM75.5 694.8h1v1h-1zM68.7 700.8h1v1h-1zM68.6 700.2h1v1h-1zM68.1 674.1h1v1h-1zM84.9 679.4h1v1h-1zM73.3 670.8h1v1h-1zM69.9 684.0h1v1h-1zM65.5 686.6h1v1h-1zM69.1 696.4h1v1h-1zM69.8 677.0h1v1h-1zM68.6 685.5h1v1h-1zM81.2 678.8h1v1h-1zM64.4 686.9h1v1h-1zM84.0 667.2h1v1h-1zM94.7 694.2h1v1h-1zM83.7 687.5h1v1h-1zM68.6 675.8h1v1h-1zM97.5 669.8h1v1h-1zM90.8 684.9h1v1h-1zM62.8 684.6h1v1h-1zM63.8 684.7h1v1h-1zM66.2 672.2h1v1h-1zM106.3 678.4h1v1h-1zM86.0 682.6h1v1h-1zM82.2 671.5h1v1h-1zM86.2 687.1h1v1h-1zM81.2 709.7h1v1h-1zM76.9 691.4h1v1h-1zM81.5 690.1h1v1h-1zM73.7 679.2h1v1h-1zM82.7 694.3h1v1h-1zM73.5 699.4h1v1h-1zM71.5 667.5h1v1h-1zM83.9 689.9h1v1h-1zM97.7 684.8h1v1h-1zM98.0 676.5h1v1h-1zM85.0 684.3h1v1h-1zM90.2 693.2h1v1h-1zM69.5 693.2h1v1h-1zM85.0 691.2h1v1h-1zM77.5 685.8h1v1h-1zM64.0 682.4h1v1h-1zM75.6 676.3h1v1h-1zM70.6 684.5h1v1h-1zM76.7 692.7h1v1h-1zM77.3 679.6h1v1h-1zM78.1 678.8h1v1h-1zM88.4 681.0h1v1h-1zM94.3 665.5h1v1h-1zM72.5 683.7h1v1h-1zM86.6 696.7h1v1h-1zM72.1 668.9h1v1h-1zM82.2 692.2h1v1h-1zM79.7 683.8h1v1h-1zM64.2 705.2h1v1h-1zM85.9 685.7h1v1h-1zM82.2 686.3h1v1h-1zM94.5 696.0h1v1h-1zM67.4 692.2h1v1h-1zM88.7 679.2h1v1h-1zM66.0 687.7h1v1h-1zM73.4 676.1h1v1h-1zM65.4 690.0h1v1h-1zM62.8 684.2h1v1h-1zM95.7 688.2h1v1h-1zM87.6 687.2h1v1h-1zM74.9 687.1h1v1h-1zM66.8 688.6h1v1h-1zM65.4 683.7h1v1h-1zM74.0 672.6h1v1h-1zM86.2 683.5h1v1h-1zM75.4 682.8h1v1h-1zM63.2 692.1h1v1h-1zM67.1 688.6h1v1h-1zM68.4 692.7h1v1h-1zM79.0 684.3h1v1h-1zM73.9 690.1h1v1h-1zM77.6 673.9h1v1h-1zM81.8 676.0h1v1h-1zM70.0 696.2h1v1h-1zM103.7 696.2h1v1h-1zM79.2 676.0h1v1h-1zM64.9 698.2h1v1h-1zM78.1 670.5h1v1h-1zM93.1 688.3h1v1h-1zM90.0 686.7h1v1h-1zM72.4 681.5h1v1h-1zM92.4 677.0h1v1h-1zM72.9 682.5h1v1h-1zM73.0 673.7h1v1h-1zM78.1 681.2h1v1h-1zM76.5 673.5h1v1h-1zM74.1 674.2h1v1h-1zM81.8 688.3h1v1h-1zM73.6 679.6h1v1h-1zM91.0 694.3h1v1h-1zM106.6 672.8h1v1h-1zM113.7 683.5h1v1h-1zM104.6 698.3h1v1h-1zM112.8 688.5h1v1h-1zM121.2 691.7h1v1h-1zM109.3 681.3h1v1h-1zM104.8 684.0h1v1h-1zM103.6 665.7h1v1h-1zM100.3 681.5h1v1h-1zM101.7 689.4h1v1h-1zM120.1 688.6h1v1h-1zM115.7 689.6h1v1h-1zM112.9 687.6h1v1h-1zM114.3 687.0h1v1h-1zM103.9 676.1h1v1h-1zM104.0 687.3h1v1h-1zM114.6 675.1h1v1h-1zM104.1 676.7h1v1h-1zM117.2 680.2h1v1h-1zM109.3 675.8h1v1h-1zM110.2 693.1h1v1h-1zM106.2 678.4h1v1h-1zM123.0 686.5h1v1h-1zM103.0 689.3h1v1h-1zM102.1 685.3h1v1h-1zM117.5 676.6h1v1h-1zM105.9 681.5h1v1h-1zM111.1 677.5h1v1h-1zM106.3 694.6h1v1h-1zM121.6 683.5h1v1h-1zM102.9 677.1h1v1h-1zM109.0 684.7h1v1h-1zM122.3 677.1h1v1h-1zM112.1 677.8h1v1h-1zM112.0 675.9h1v1h-1zM113.7 689.8h1v1h-1zM108.3 678.6h1v1h-1zM111.9 671.1h1v1h-1zM123.8 670.9h1v1h-1zM108.5 674.4h1v1h-1zM121.6 677.4h1v1h-1zM107.5 695.3h1v1h-1zM110.2 675.2h1v1h-1zM111.0 682.5h1v1h-1zM105.8 679.7h1v1h-1zM109.6 686.5h1v1h-1zM116.5 687.4h1v1h-1zM110.2 687.1h1v1h-1zM109.6 689.8h1v1h-1zM113.9 677.8h1v1h-1zM119.7 669.6h1v1h-1zM104.2 675.0h1v1h-1zM110.1 671.8h1v1h-1zM102.6 666.8h1v1h-1zM111.9 675.3h1v1h-1zM126.5 686.9h1v1h-1zM103.0 691.0h1v1h-1zM111.8 689.2h1v1h-1zM103.2 689.8h1v1h-1zM118.8 677.9h1v1h-1zM105.1 678.2h1v1h-1zM123.8 692.4h1v1h-1zM109.5 678.6h1v1h-1zM113.6 679.0h1v1h-1zM107.8 679.5h1v1h-1zM117.0 680.5h1v1h-1zM112.7 679.1h1v1h-1zM109.7 678.6h1v1h-1zM119.9 682.8h1v1h-1zM121.6 679.8h1v1h-1zM118.5 670.6h1v1h-1zM108.2 680.6h1v1h-1zM106.6 680.2h1v1h-1zM104.5 679.8h1v1h-1zM106.4 681.0h1v1h-1zM109.0 673.5h1v1h-1zM108.2 681.3h1v1h-1zM102.1 681.8h1v1h-1zM119.9 679.3h1v1h-1zM114.9 685.8h1v1h-1zM105.4 691.0h1v1h-1zM128.7 673.3h1v1h-1zM126.2 675.7h1v1h-1zM121.3 667.4h1v1h-1zM119.1 682.1h1v1h-1zM102.0 674.8h1v1h-1zM103.7 674.3h1v1h-1zM113.7 679.7h1v1h-1zM114.3 681.7h1v1h-1zM123.0 667.2h1v1h-1zM112.8 681.3h1v1h-1zM116.1 671.0h1v1h-1zM101.8 679.8h1v1h-1zM111.6 667.4h1v1h-1zM113.6 681.0h1v1h-1zM116.2 661.4h1v1h-1zM114.6 674.4h1v1h-1zM107.7 686.9h1v1h-1zM123.0 682.2h1v1h-1zM110.3 690.9h1v1h-1zM104.8 679.9h1v1h-1zM107.5 673.6h1v1h-1zM112.4 696.4h1v1h-1zM112.8 684.8h1v1h-1zM110.8 689.6h1v1h-1zM112.3 674.4h1v1h-1zM111.8 691.9h1v1h-1zM110.5 690.1h1v1h-1zM110.6 696.3h1v1h-1zM113.0 686.0h1v1h-1zM109.0 687.4h1v1h-1zM109.5 669.9h1v1h-1zM113.2 672.0h1v1h-1zM121.5 687.0h1v1h-1zM111.2 686.3h1v1h-1zM106.5 686.1h1v1h-1zM129.1 668.9h1v1h-1zM108.1 683.6h1v1h-1zM114.0 668.3h1v1h-1zM104.5 692.3h1v1h-1zM106.8 685.2h1v1h-1zM101.4 674.2h1v1h-1zM119.2 681.8h1v1h-1zM109.1 682.9h1v1h-1zM114.3 678.9h1v1h-1zM115.0 695.8h1v1h-1zM126.7 676.7h1v1h-1zM102.2 695.5h1v1h-1zM118.0 690.2h1v1h-1zM115.3 679.4h1v1h-1zM117.9 689.5h1v1h-1zM119.3 672.9h1v1h-1zM118.3 678.4h1v1h-1zM108.5 683.7h1v1h-1zM108.6 698.5h1v1h-1zM115.0 683.1h1v1h-1zM109.7 682.9h1v1h-1zM109.4 685.5h1v1h-1zM117.1 687.4h1v1h-1zM102.2 678.6h1v1h-1zM111.7 671.9h1v1h-1zM113.7 680.0h1v1h-1zM111.5 684.0h1v1h-1zM106.7 692.8h1v1h-1zM118.4 676.9h1v1h-1zM114.3 686.7h1v1h-1zM105.7 678.4h1v1h-1zM116.0 661.6h1v1h-1zM101.8 683.6h1v1h-1zM115.4 674.1h1v1h-1zM117.1 697.8h1v1h-1zM112.5 680.8h1v1h-1zM111.6 673.4h1v1h-1zM115.0 682.4h1v1h-1zM116.3 691.8h1v1h-1zM111.3 682.4h1v1h-1zM113.4 694.2h1v1h-1zM100.8 681.1h1v1h-1zM106.7 682.0h1v1h-1zM116.9 681.6h1v1h-1zM116.3 682.5h1v1h-1zM106.1 676.1h1v1h-1zM101.4 682.8h1v1h-1zM108.3 687.4h1v1h-1zM117.9 674.4h1v1h-1zM103.4 685.7h1v1h-1zM104.9 682.7h1v1h-1zM115.4 678.2h1v1h-1zM123.6 675.2h1v1h-1zM114.1 678.0h1v1h-1zM110.0 685.5h1v1h-1zM110.1 675.6h1v1h-1zM107.5 678.8h1v1h-1zM116.4 679.0h1v1h-1zM119.8 687.5h1v1h-1zM105.9 688.9h1v1h-1zM104.2 680.3h1v1h-1zM119.2 681.1h1v1h-1zM109.9 690.7h1v1h-1zM105.7 674.8h1v1h-1zM117.9 685.7h1v1h-1zM101.0 682.2h1v1h-1zM116.6 679.9h1v1h-1zM108.2 682.1h1v1h-1zM112.6 675.8h1v1h-1zM117.0 669.2h1v1h-1zM110.6 697.2h1v1h-1zM103.6 680.8h1v1h-1zM103.0 681.5h1v1h-1zM107.6 694.9h1v1h-1zM104.6 680.9h1v1h-1zM112.6 685.9h1v1h-1zM117.4 669.3h1v1h-1zM126.5 678.8h1v1h-1zM106.0 668.7h1v1h-1zM108.0 667.7h1v1h-1zM112.4 676.6h1v1h-1zM113.4 675.1h1v1h-1zM111.6 697.8h1v1h-1zM119.3 682.3h1v1h-1zM104.1 692.1h1v1h-1zM120.2 676.6h1v1h-1zM120.5 685.4h1v1h-1zM126.4 694.5h1v1h-1zM115.2 676.3h1v1h-1zM115.2 691.6h1v1h-1zM112.0 659.3h1v1h-1zM108.4 678.3h1v1h-1zM110.6 678.4h1v1h-1zM119.1 671.5h1v1h-1zM114.1 666.1h1v1h-1zM105.8 674.3h1v1h-1zM106.1 685.6h1v1h-1zM115.1 681.6h1v1h-1zM112.4 675.8h1v1h-1zM104.1 670.3h1v1h-1zM108.1 672.5h1v1h-1zM108.7 686.5h1v1h-1zM114.9 691.0h1v1h-1zM104.5 664.5h1v1h-1zM103.2 696.0h1v1h-1zM115.9 677.7h1v1h-1zM120.3 677.9h1v1h-1zM122.7 678.0h1v1h-1zM108.2 686.3h1v1h-1zM103.0 679.8h1v1h-1zM124.6 684.3h1v1h-1zM103.3 679.1h1v1h-1zM110.8 675.3h1v1h-1zM113.9 690.4h1v1h-1zM111.3 687.7h1v1h-1zM113.1 682.0h1v1h-1zM105.7 688.2h1v1h-1zM120.5 677.6h1v1h-1zM104.9 684.9h1v1h-1zM111.7 689.5h1v1h-1zM114.5 680.0h1v1h-1zM101.3 685.7h1v1h-1zM111.7 671.5h1v1h-1zM100.6 667.3h1v1h-1zM115.4 677.7h1v1h-1zM106.5 680.2h1v1h-1zM111.2 678.4h1v1h-1zM116.2 688.7h1v1h-1zM109.4 692.8h1v1h-1zM110.1 674.5h1v1h-1zM112.1 670.2h1v1h-1zM108.9 673.0h1v1h-1zM108.0 682.5h1v1h-1zM112.8 679.4h1v1h-1zM116.0 683.6h1v1h-1zM108.4 673.4h1v1h-1zM116.1 686.7h1v1h-1zM100.6 675.5h1v1h-1zM102.7 687.2h1v1h-1zM107.0 671.6h1v1h-1zM121.6 684.4h1v1h-1zM112.6 682.8h1v1h-1zM109.7 681.2h1v1h-1zM117.3 684.3h1v1h-1zM107.8 681.7h1v1h-1zM124.1 676.8h1v1h-1zM101.7 681.8h1v1h-1zM115.3 685.4h1v1h-1zM113.5 695.8h1v1h-1zM103.8 680.6h1v1h-1zM110.4 694.3h1v1h-1zM109.0 673.1h1v1h-1zM106.0 687.0h1v1h-1zM105.2 682.9h1v1h-1zM105.9 675.6h1v1h-1zM107.0 693.2h1v1h-1zM103.4 683.4h1v1h-1zM116.6 675.3h1v1h-1zM100.4 692.3h1v1h-1zM123.2 679.1h1v1h-1zM102.5 687.5h1v1h-1zM110.7 674.7h1v1h-1zM108.2 662.9h1v1h-1zM105.2 671.7h1v1h-1zM101.6 685.3h1v1h-1zM112.8 693.7h1v1h-1zM105.0 690.9h1v1h-1zM118.2 681.8h1v1h-1zM111.6 675.2h1v1h-1zM107.3 677.5h1v1h-1zM116.1 696.6h1v1h-1zM119.6 684.6h1v1h-1zM116.8 668.1h1v1h-1zM103.7 687.3h1v1h-1zM108.2 668.7h1v1h-1zM110.8 671.1h1v1h-1zM110.9 692.7h1v1h-1zM102.9 677.5h1v1h-1zM114.8 680.7h1v1h-1zM112.2 674.5h1v1h-1zM108.5 662.8h1v1h-1zM109.6 690.6h1v1h-1zM102.9 679.4h1v1h-1zM115.9 690.1h1v1h-1zM119.1 674.1h1v1h-1zM107.9 694.2h1v1h-1zM107.6 683.0h1v1h-1zM104.9 675.9h1v1h-1zM103.9 691.1h1v1h-1zM116.3 683.9h1v1h-1zM107.2 670.3h1v1h-1zM114.2 674.5h1v1h-1zM110.0 688.0h1v1h-1zM109.5 680.6h1v1h-1zM103.8 688.8h1v1h-1zM114.6 686.2h1v1h-1zM122.4 668.5h1v1h-1zM111.0 685.7h1v1h-1zM113.2 683.1h1v1h-1zM114.1 669.2h1v1h-1zM110.3 689.7h1v1h-1zM110.4 679.3h1v1h-1zM116.8 667.5h1v1h-1zM113.6 692.3h1v1h-1zM109.0 674.5h1v1h-1zM114.5 677.4h1v1h-1zM105.0 682.1h1v1h-1zM102.3 676.6h1v1h-1zM116.0 680.6h1v1h-1zM112.7 691.3h1v1h-1zM121.6 696.7h1v1h-1zM106.9 687.8h1v1h-1zM120.1 675.3h1v1h-1zM114.1 687.2h1v1h-1zM109.7 676.0h1v1h-1zM121.5 670.8h1v1h-1zM112.0 688.1h1v1h-1zM112.5 692.8h1v1h-1zM121.3 684.4h1v1h-1zM123.4 686.5h1v1h-1zM102.1 678.3h1v1h-1zM112.7 682.3h1v1h-1zM99.7 672.2h1v1h-1zM114.0 682.3h1v1h-1zM121.7 682.5h1v1h-1zM113.5 686.4h1v1h-1zM105.6 671.0h1v1h-1zM107.5 688.6h1v1h-1zM108.8 690.3h1v1h-1zM106.9 686.6h1v1h-1zM111.0 687.2h1v1h-1zM110.9 682.4h1v1h-1zM107.5 690.3h1v1h-1zM110.6 684.6h1v1h-1zM115.5 674.1h1v1h-1zM105.0 680.5h1v1h-1zM119.9 672.8h1v1h-1zM103.6 673.3h1v1h-1zM108.1 672.7h1v1h-1zM105.1 684.9h1v1h-1zM103.1 680.8h1v1h-1zM102.5 679.3h1v1h-1zM114.5 665.6h1v1h-1zM111.2 682.6h1v1h-1zM110.4 682.8h1v1h-1zM113.8 671.0h1v1h-1zM110.0 685.8h1v1h-1zM120.0 670.5h1v1h-1zM106.7 670.5h1v1h-1zM110.7 672.7h1v1h-1zM103.9 686.7h1v1h-1zM126.8 665.2h1v1h-1zM122.5 673.9h1v1h-1zM115.7 683.5h1v1h-1zM119.6 679.3h1v1h-1zM105.0 680.4h1v1h-1zM116.5 674.1h1v1h-1zM113.8 680.8h1v1h-1zM112.1 680.9h1v1h-1zM115.1 687.0h1v1h-1zM108.8 678.2h1v1h-1zM100.1 686.0h1v1h-1zM103.2 675.6h1v1h-1zM114.6 688.4h1v1h-1zM119.5 674.4h1v1h-1zM112.6 689.0h1v1h-1zM104.9 679.2h1v1h-1zM102.3 676.0h1v1h-1zM115.9 681.6h1v1h-1zM108.3 676.7h1v1h-1zM121.6 686.6h1v1h-1zM102.1 697.3h1v1h-1zM108.0 679.7h1v1h-1zM107.4 676.6h1v1h-1zM115.4 669.9h1v1h-1zM111.1 678.4h1v1h-1zM123.2 683.9h1v1h-1zM114.0 684.9h1v1h-1zM115.1 681.8h1v1h-1zM108.7 686.2h1v1h-1zM113.1 676.8h1v1h-1zM104.6 673.2h1v1h-1zM112.9 680.1h1v1h-1zM104.7 678.2h1v1h-1zM113.4 675.9h1v1h-1zM110.0 676.3h1v1h-1zM111.4 687.1h1v1h-1zM120.1 675.4h1v1h-1zM115.1 682.9h1v1h-1zM111.5 687.2h1v1h-1zM117.1 671.4h1v1h-1zM121.3 679.6h1v1h-1zM106.2 675.7h1v1h-1zM109.3 672.4h1v1h-1zM118.6 684.2h1v1h-1zM104.6 687.1h1v1h-1zM112.6 681.5h1v1h-1zM117.7 680.2h1v1h-1zM109.1 684.7h1v1h-1zM114.5 689.0h1v1h-1zM106.3 678.8h1v1h-1zM115.2 692.2h1v1h-1zM123.3 688.1h1v1h-1zM115.4 682.0h1v1h-1zM102.5 672.5h1v1h-1zM111.8 669.0h1v1h-1zM123.4 685.5h1v1h-1zM113.5 684.6h1v1h-1zM112.6 681.4h1v1h-1zM115.9 675.9h1v1h-1zM112.9 682.2h1v1h-1zM116.4 672.6h1v1h-1zM112.7 680.0h1v1h-1zM115.4 685.0h1v1h-1zM112.2 684.4h1v1h-1zM114.1 691.2h1v1h-1zM113.1 685.0h1v1h-1zM104.4 679.4h1v1h-1zM116.3 688.8h1v1h-1zM104.1 680.6h1v1h-1zM109.0 681.3h1v1h-1zM107.6 677.7h1v1h-1zM110.5 681.9h1v1h-1zM118.1 674.5h1v1h-1zM104.2 686.9h1v1h-1zM114.5 679.5h1v1h-1zM102.8 688.9h1v1h-1zM103.4 689.5h1v1h-1zM112.7 679.8h1v1h-1zM109.7 687.1h1v1h-1zM111.0 667.9h1v1h-1zM106.0 664.8h1v1h-1zM113.8 687.9h1v1h-1zM118.2 670.8h1v1h-1zM125.9 694.6h1v1h-1zM110.2 666.0h1v1h-1zM104.8 688.8h1v1h-1zM125.5 676.9h1v1h-1zM124.4 680.9h1v1h-1zM101.1 665.2h1v1h-1zM115.4 687.0h1v1h-1zM107.6 679.4h1v1h-1zM111.5 678.4h1v1h-1zM107.1 676.6h1v1h-1zM106.8 690.2h1v1h-1zM113.7 688.6h1v1h-1zM123.9 663.7h1v1h-1zM110.5 688.1h1v1h-1zM109.4 676.4h1v1h-1zM113.7 676.9h1v1h-1zM105.0 678.6h1v1h-1zM111.3 681.0h1v1h-1zM117.2 681.1h1v1h-1zM109.3 678.9h1v1h-1zM109.9 675.7h1v1h-1zM99.9 682.4h1v1h-1zM121.2 667.2h1v1h-1zM105.6 684.1h1v1h-1zM106.2 684.9h1v1h-1zM110.6 672.6h1v1h-1zM109.4 677.0h1v1h-1zM114.7 661.8h1v1h-1zM113.8 690.9h1v1h-1zM112.0 682.7h1v1h-1zM107.2 683.5h1v1h-1zM109.9 671.3h1v1h-1zM102.6 663.5h1v1h-1zM114.0 682.2h1v1h-1zM118.6 682.9h1v1h-1zM115.8 670.8h1v1h-1zM108.6 683.6h1v1h-1zM110.0 679.7h1v1h-1zM111.2 682.8h1v1h-1zM112.3 683.3h1v1h-1zM107.4 680.2h1v1h-1zM100.6 672.5h1v1h-1zM109.0 684.1h1v1h-1zM105.6 670.3h1v1h-1zM117.6 674.7h1v1h-1zM102.6 662.7h1v1h-1zM108.2 693.6h1v1h-1zM105.7 674.8h1v1h-1zM118.9 681.6h1v1h-1zM110.2 691.1h1v1h-1zM102.6 680.5h1v1h-1zM114.5 682.4h1v1h-1zM102.7 673.9h1v1h-1zM123.4 680.2h1v1h-1zM109.1 689.0h1v1h-1zM104.0 681.8h1v1h-1zM104.5 681.9h1v1h-1zM113.2 681.0h1v1h-1zM108.7 682.8h1v1h-1zM109.2 677.1h1v1h-1zM115.3 687.3h1v1h-1zM101.5 673.4h1v1h-1zM105.5 683.1h1v1h-1zM101.1 692.6h1v1h-1zM111.2 682.1h1v1h-1zM117.1 675.3h1v1h-1zM113.6 684.0h1v1h-1zM120.0 673.1h1v1h-1zM120.6 685.4h1v1h-1zM112.7 688.9h1v1h-1zM109.2 679.5h1v1h-1zM116.8 678.3h1v1h-1zM118.5 691.3h1v1h-1zM112.5 682.3h1v1h-1zM106.4 674.1h1v1h-1zM121.0 673.2h1v1h-1zM111.6 683.2h1v1h-1zM104.7 675.9h1v1h-1zM106.1 696.9h1v1h-1zM113.6 691.4h1v1h-1zM125.2 688.6h1v1h-1zM120.2 677.7h1v1h-1zM106.2 691.9h1v1h-1zM121.2 673.4h1v1h-1zM119.0 683.2h1v1h-1zM116.6 688.3h1v1h-1zM124.3 676.4h1v1h-1zM111.1 690.5h1v1h-1zM109.3 685.2h1v1h-1zM110.5 668.4h1v1h-1zM107.2 687.7h1v1h-1zM107.3 669.6h1v1h-1zM107.6 681.9h1v1h-1zM114.5 683.6h1v1h-1zM114.8 673.2h1v1h-1zM106.9 675.4h1v1h-1zM108.0 684.4h1v1h-1zM120.4 679.4h1v1h-1zM118.5 689.4h1v1h-1zM103.1 675.0h1v1h-1zM112.2 670.8h1v1h-1zM124.2 667.1h1v1h-1zM102.6 687.0h1v1h-1zM105.9 686.5h1v1h-1zM104.3 689.1h1v1h-1zM107.1 686.6h1v1h-1zM118.2 670.0h1v1h-1zM105.0 668.1h1v1h-1zM103.4 688.1h1v1h-1zM111.0 687.5h1v1h-1zM121.1 688.9h1v1h-1zM116.2 678.0h1v1h-1zM108.5 683.6h1v1h-1zM117.3 689.3h1v1h-1zM113.3 679.0h1v1h-1zM110.7 693.6h1v1h-1zM113.2 696.2h1v1h-1zM106.2 687.8h1v1h-1zM112.7 686.9h1v1h-1zM106.0 683.8h1v1h-1zM110.8 679.2h1v1h-1zM102.9 670.7h1v1h-1zM108.9 685.3h1v1h-1zM113.0 683.1h1v1h-1zM113.5 671.2h1v1h-1zM118.7 681.8h1v1h-1zM106.0 677.2h1v1h-1zM118.1 682.7h1v1h-1zM99.6 697.0h1v1h-1zM100.9 694.1h1v1h-1zM117.2 673.8h1v1h-1zM119.9 690.7h1v1h-1zM118.5 686.1h1v1h-1zM113.5 682.9h1v1h-1zM107.5 683.3h1v1h-1zM120.2 680.5h1v1h-1zM125.0 669.7h1v1h-1zM111.5 670.2h1v1h-1zM109.0 677.2h1v1h-1zM103.9 679.5h1v1h-1zM100.0 679.8h1v1h-1zM107.6 672.0h1v1h-1zM114.2 667.4h1v1h-1zM114.3 683.3h1v1h-1zM115.0 682.3h1v1h-1zM116.8 679.4h1v1h-1zM103.7 684.1h1v1h-1zM105.8 678.6h1v1h-1zM112.1 674.4h1v1h-1zM118.1 669.8h1v1h-1zM119.8 681.1h1v1h-1zM123.1 689.6h1v1h-1zM116.0 683.5h1v1h-1zM112.1 671.0h1v1h-1zM107.4 674.3h1v1h-1zM106.3 680.3h1v1h-1zM105.8 682.4h1v1h-1zM109.5 677.8h1v1h-1zM114.0 684.8h1v1h-1zM102.0 679.0h1v1h-1zM131.7 681.4h1v1h-1zM114.5 674.7h1v1h-1zM118.1 692.8h1v1h-1zM115.3 680.3h1v1h-1zM111.5 667.2h1v1h-1zM115.4 679.0h1v1h-1zM114.1 684.1h1v1h-1zM112.8 697.0h1v1h-1zM117.7 676.4h1v1h-1zM115.5 686.0h1v1h-1zM111.6 691.8h1v1h-1zM108.7 668.3h1v1h-1zM103.9 684.2h1v1h-1zM104.4 682.4h1v1h-1zM100.8 684.2h1v1h-1zM109.5 674.5h1v1h-1zM107.4 679.3h1v1h-1zM117.6 683.1h1v1h-1zM109.9 682.5h1v1h-1zM117.5 684.8h1v1h-1zM123.5 675.9h1v1h-1zM117.0 682.2h1v1h-1zM106.9 685.8h1v1h-1zM117.1 688.6h1v1h-1zM114.6 674.8h1v1h-1zM112.5 684.2h1v1h-1zM122.9 682.2h1v1h-1zM112.4 692.9h1v1h-1zM111.7 678.0h1v1h-1zM113.3 687.1h1v1h-1zM112.4 668.8h1v1h-1zM108.5 688.8h1v1h-1zM106.1 687.7h1v1h-1zM112.5 675.4h1v1h-1zM116.8 665.3h1v1h-1zM115.0 679.3h1v1h-1zM115.7 680.7h1v1h-1zM112.2 677.4h1v1h-1zM108.5 688.7h1v1h-1zM116.6 671.4h1v1h-1zM135.3 698.5h1v1h-1zM137.5 669.1h1v1h-1zM137.3 680.6h1v1h-1zM124.7 688.0h1v1h-1zM143.1 673.3h1v1h-1zM130.0 674.5h1v1h-1zM128.6 694.2h1v1h-1zM123.4 684.1h1v1h-1zM131.6 679.2h1v1h-1zM115.1 684.6h1v1h-1zM115.5 685.6h1v1h-1zM127.4 679.8h1v1h-1zM123.0 670.0h1v1h-1zM116.3 678.5h1v1h-1zM127.5 681.2h1v1h-1zM125.1 686.1h1v1h-1zM130.2 679.6h1v1h-1zM125.6 678.2h1v1h-1zM136.2 671.5h1v1h-1zM114.2 682.2h1v1h-1zM133.5 678.7h1v1h-1zM131.4 665.6h1v1h-1zM117.0 678.4h1v1h-1zM128.1 666.2h1v1h-1zM134.0 659.7h1v1h-1zM143.2 668.0h1v1h-1zM121.9 668.1h1v1h-1zM112.6 675.3h1v1h-1zM106.1 675.1h1v1h-1zM130.5 675.5h1v1h-1zM128.2 664.2h1v1h-1zM106.6 665.3h1v1h-1zM141.0 681.5h1v1h-1zM107.3 695.2h1v1h-1zM135.9 689.1h1v1h-1zM140.4 691.2h1v1h-1zM108.5 679.1h1v1h-1zM119.3 697.4h1v1h-1zM136.6 678.3h1v1h-1zM125.4 657.6h1v1h-1zM129.6 670.1h1v1h-1zM144.5 685.7h1v1h-1zM127.5 674.5h1v1h-1zM141.5 673.1h1v1h-1zM141.4 680.4h1v1h-1zM125.0 682.0h1v1h-1zM149.1 662.6h1v1h-1zM137.3 685.6h1v1h-1zM125.4 692.8h1v1h-1zM136.3 683.7h1v1h-1zM116.5 684.0h1v1h-1zM113.2 683.3h1v1h-1zM146.8 667.7h1v1h-1zM129.2 685.4h1v1h-1zM111.3 681.6h1v1h-1zM119.3 672.3h1v1h-1zM138.4 677.6h1v1h-1zM133.2 678.5h1v1h-1zM132.9 693.7h1v1h-1zM129.9 675.5h1v1h-1zM128.7 685.4h1v1h-1zM133.8 657.2h1v1h-1zM127.5 682.6h1v1h-1zM125.2 666.9h1v1h-1zM127.6 660.9h1v1h-1zM118.5 677.5h1v1h-1zM110.5 675.7h1v1h-1zM120.3 690.8h1v1h-1zM130.1 685.0h1v1h-1zM148.5 669.3h1v1h-1zM140.9 662.9h1v1h-1zM123.7 676.4h1v1h-1zM125.4 659.1h1v1h-1zM129.9 675.5h1v1h-1zM146.0 684.1h1v1h-1zM102.7 679.6h1v1h-1zM141.0 677.4h1v1h-1zM120.0 664.8h1v1h-1zM124.0 669.0h1v1h-1zM125.1 675.1h1v1h-1zM143.6 668.6h1v1h-1zM132.3 667.5h1v1h-1zM131.7 688.5h1v1h-1zM121.6 666.6h1v1h-1zM128.8 678.5h1v1h-1zM120.8 682.5h1v1h-1zM129.2 685.0h1v1h-1zM112.0 685.8h1v1h-1zM143.4 670.2h1v1h-1zM151.9 680.6h1v1h-1zM112.9 667.7h1v1h-1zM119.5 671.9h1v1h-1zM125.5 681.3h1v1h-1zM125.9 675.1h1v1h-1zM116.9 658.0h1v1h-1zM119.9 666.1h1v1h-1zM138.9 654.3h1v1h-1zM126.0 678.4h1v1h-1zM115.1 668.6h1v1h-1zM138.8 667.6h1v1h-1zM127.2 678.7h1v1h-1zM136.2 665.8h1v1h-1zM144.0 676.8h1v1h-1zM140.4 664.3h1v1h-1zM141.3 677.4h1v1h-1zM137.6 671.9h1v1h-1zM138.6 678.6h1v1h-1zM120.4 682.9h1v1h-1zM126.0 673.8h1v1h-1zM123.9 687.4h1v1h-1zM139.5 687.5h1v1h-1zM108.9 686.4h1v1h-1zM132.9 689.6h1v1h-1zM128.3 679.7h1v1h-1zM119.9 698.1h1v1h-1zM124.4 689.2h1v1h-1zM118.7 676.8h1v1h-1zM123.7 677.2h1v1h-1zM122.3 684.6h1v1h-1zM136.2 662.3h1v1h-1zM123.1 665.2h1v1h-1zM141.2 665.8h1v1h-1zM134.0 679.8h1v1h-1zM127.7 658.9h1v1h-1zM148.7 676.8h1v1h-1zM136.5 688.8h1v1h-1zM116.4 668.4h1v1h-1zM148.9 697.7h1v1h-1zM118.5 677.5h1v1h-1zM139.7 676.8h1v1h-1zM144.2 684.3h1v1h-1zM127.5 685.0h1v1h-1zM122.7 690.9h1v1h-1zM120.5 691.4h1v1h-1zM148.7 663.5h1v1h-1zM127.6 696.6h1v1h-1zM141.4 685.1h1v1h-1zM132.9 680.1h1v1h-1zM133.9 676.4h1v1h-1zM125.0 666.0h1v1h-1zM149.3 678.1h1v1h-1zM151.2 685.8h1v1h-1zM133.9 667.4h1v1h-1zM125.3 678.8h1v1h-1zM127.0 675.3h1v1h-1zM101.0 674.3h1v1h-1zM125.4 673.5h1v1h-1zM124.6 662.7h1v1h-1zM118.1 693.1h1v1h-1zM117.1 673.1h1v1h-1zM114.1 714.8h1v1h-1zM116.4 734.4h1v1h-1zM112.5 728.5h1v1h-1zM116.7 720.3h1v1h-1zM117.7 714.3h1v1h-1zM121.2 718.4h1v1h-1zM112.0 707.9h1v1h-1zM126.0 713.9h1v1h-1zM120.6 722.3h1v1h-1zM121.1 717.7h1v1h-1zM112.2 716.4h1v1h-1zM107.5 732.3h1v1h-1zM114.5 731.5h1v1h-1zM116.6 715.2h1v1h-1zM130.1 718.3h1v1h-1zM121.7 713.9h1v1h-1zM118.4 709.7h1v1h-1zM114.5 700.3h1v1h-1zM119.2 709.3h1v1h-1zM130.9 735.5h1v1h-1zM134.7 705.7h1v1h-1zM117.6 715.3h1v1h-1zM108.8 730.5h1v1h-1zM125.7 719.1h1v1h-1zM134.9 720.9h1v1h-1zM118.1 719.0h1v1h-1zM116.9 720.8h1v1h-1zM110.5 721.1h1v1h-1zM118.2 712.6h1v1h-1zM117.5 715.3h1v1h-1zM107.3 721.9h1v1h-1zM118.9 732.7h1v1h-1zM120.3 725.0h1v1h-1zM120.2 715.3h1v1h-1zM111.2 712.3h1v1h-1zM118.2 710.0h1v1h-1zM122.7 725.8h1v1h-1zM118.1 727.2h1v1h-1zM129.8 723.4h1v1h-1zM117.9 717.4h1v1h-1zM132.7 730.5h1v1h-1zM129.0 700.9h1v1h-1zM103.4 732.6h1v1h-1zM125.8 728.7h1v1h-1zM124.8 713.8h1v1h-1zM123.9 716.1h1v1h-1zM131.7 724.1h1v1h-1zM113.3 709.7h1v1h-1zM128.1 724.5h1v1h-1zM122.6 719.7h1v1h-1zM111.0 708.8h1v1h-1zM124.4 700.0h1v1h-1zM124.2 721.8h1v1h-1zM125.4 724.2h1v1h-1zM134.8 719.2h1v1h-1zM114.3 701.1h1v1h-1zM103.5 717.4h1v1h-1zM127.2 701.4h1v1h-1zM121.8 710.1h1v1h-1zM118.6 718.5h1v1h-1zM120.8 705.8h1v1h-1zM126.2 715.4h1v1h-1zM106.3 723.6h1v1h-1zM132.4 713.1h1v1h-1zM132.6 702.3h1v1h-1zM118.6 728.3h1v1h-1zM130.4 721.3h1v1h-1zM128.5 712.9h1v1h-1zM125.9 725.3h1v1h-1zM127.6 720.0h1v1h-1zM126.8 720.5h1v1h-1zM125.1 702.6h1v1h-1zM125.0 708.1h1v1h-1zM117.6 717.1h1v1h-1zM122.4 704.7h1v1h-1zM116.5 718.8h1v1h-1zM117.4 716.8h1v1h-1zM122.2 718.5h1v1h-1zM116.4 718.2h1v1h-1zM124.8 705.1h1v1h-1zM126.4 707.5h1v1h-1zM123.2 722.1h1v1h-1zM125.3 705.9h1v1h-1zM113.6 705.9h1v1h-1zM124.8 717.8h1v1h-1zM106.9 723.2h1v1h-1zM129.4 711.8h1v1h-1zM119.9 718.8h1v1h-1zM112.8 712.7h1v1h-1zM124.6 713.4h1v1h-1zM120.4 717.5h1v1h-1zM133.4 718.9h1v1h-1zM123.0 712.2h1v1h-1zM129.8 717.1h1v1h-1zM120.2 728.4h1v1h-1zM130.6 708.1h1v1h-1zM118.1 728.1h1v1h-1zM116.9 730.7h1v1h-1zM119.2 734.1h1v1h-1zM109.5 734.4h1v1h-1zM115.0 712.6h1v1h-1zM116.1 709.8h1v1h-1zM121.6 717.7h1v1h-1zM115.7 711.7h1v1h-1zM130.5 725.2h1v1h-1zM127.9 727.7h1v1h-1zM119.0 724.5h1v1h-1zM132.8 709.0h1v1h-1zM106.0 703.2h1v1h-1zM112.9 707.7h1v1h-1zM116.7 723.9h1v1h-1zM114.9 713.1h1v1h-1zM110.6 702.0h1v1h-1zM119.0 709.7h1v1h-1zM127.1 717.5h1v1h-1zM106.7 723.0h1v1h-1zM111.3 712.8h1v1h-1zM112.5 709.0h1v1h-1zM115.8 705.7h1v1h-1zM114.8 713.9h1v1h-1zM125.8 722.8h1v1h-1zM133.7 701.7h1v1h-1zM117.4 727.3h1v1h-1zM111.8 714.9h1v1h-1zM125.8 730.3h1v1h-1zM124.6 719.3h1v1h-1zM119.1 722.0h1v1h-1zM121.1 719.4h1v1h-1zM115.4 715.2h1v1h-1zM113.7 706.5h1v1h-1zM113.9 708.7h1v1h-1zM115.2 711.1h1v1h-1zM108.8 719.1h1v1h-1zM122.6 730.3h1v1h-1zM102.5 703.5h1v1h-1zM113.0 708.4h1v1h-1zM120.7 708.6h1v1h-1zM114.4 722.9h1v1h-1zM118.8 701.7h1v1h-1zM128.7 714.8h1v1h-1zM130.4 715.6h1v1h-1zM117.6 718.5h1v1h-1zM130.0 717.3h1v1h-1zM118.0 703.8h1v1h-1zM121.6 706.6h1v1h-1zM119.5 703.8h1v1h-1zM113.7 707.5h1v1h-1zM115.2 706.0h1v1h-1zM129.5 723.3h1v1h-1zM117.7 706.9h1v1h-1zM128.4 714.1h1v1h-1zM124.5 725.3h1v1h-1zM117.2 720.2h1v1h-1zM123.6 712.4h1v1h-1zM118.9 710.7h1v1h-1zM132.6 725.4h1v1h-1zM126.9 710.7h1v1h-1zM114.6 708.4h1v1h-1zM123.6 723.2h1v1h-1zM105.9 722.6h1v1h-1zM127.0 723.4h1v1h-1zM110.6 718.0h1v1h-1zM122.7 704.3h1v1h-1zM111.7 736.1h1v1h-1zM115.1 711.8h1v1h-1zM105.6 710.7h1v1h-1zM130.4 719.7h1v1h-1zM113.8 716.6h1v1h-1zM122.9 721.5h1v1h-1zM112.7 719.6h1v1h-1zM115.2 711.7h1v1h-1zM113.8 709.0h1v1h-1zM123.8 700.4h1v1h-1zM113.5 713.7h1v1h-1zM119.7 730.2h1v1h-1zM109.5 721.3h1v1h-1zM119.4 733.8h1v1h-1zM118.6 734.1h1v1h-1zM113.0 719.4h1v1h-1zM111.9 710.9h1v1h-1zM110.8 712.6h1v1h-1zM131.8 711.4h1v1h-1zM122.5 716.3h1v1h-1zM122.5 709.4h1v1h-1zM124.6 717.0h1v1h-1zM105.6 716.5h1v1h-1zM124.5 716.7h1v1h-1zM122.5 716.2h1v1h-1zM116.5 725.6h1v1h-1zM130.6 713.5h1v1h-1zM126.1 706.5h1v1h-1zM129.5 708.8h1v1h-1zM120.5 724.7h1v1h-1zM116.4 716.6h1v1h-1zM127.7 711.3h1v1h-1zM122.7 726.0h1v1h-1zM122.0 709.2h1v1h-1zM117.2 713.9h1v1h-1zM120.3 721.8h1v1h-1zM108.6 715.5h1v1h-1zM121.6 729.6h1v1h-1zM109.3 708.3h1v1h-1zM126.8 715.8h1v1h-1zM128.3 715.8h1v1h-1zM115.3 715.7h1v1h-1zM129.3 722.6h1v1h-1zM121.6 717.4h1v1h-1zM128.1 721.7h1v1h-1zM122.0 722.6h1v1h-1zM120.9 706.3h1v1h-1zM126.8 726.8h1v1h-1zM130.5 715.6h1v1h-1zM111.2 719.8h1v1h-1zM115.8 699.6h1v1h-1zM121.3 709.4h1v1h-1zM120.7 711.9h1v1h-1zM126.2 723.7h1v1h-1zM123.8 726.6h1v1h-1zM107.4 722.7h1v1h-1zM127.7 712.6h1v1h-1zM121.0 705.6h1v1h-1zM116.9 718.7h1v1h-1zM117.5 708.7h1v1h-1zM113.0 714.7h1v1h-1zM110.0 725.8h1v1h-1zM128.6 716.4h1v1h-1zM115.8 715.6h1v1h-1zM119.4 709.2h1v1h-1zM115.4 719.9h1v1h-1zM113.5 710.5h1v1h-1zM116.8 707.3h1v1h-1zM122.0 704.9h1v1h-1zM126.9 722.4h1v1h-1zM119.9 723.6h1v1h-1zM128.1 712.7h1v1h-1zM119.7 710.8h1v1h-1zM117.4 712.7h1v1h-1zM120.7 720.6h1v1h-1zM136.2 719.0h1v1h-1zM127.0 714.1h1v1h-1zM132.2 717.2h1v1h-1zM118.8 713.7h1v1h-1zM120.3 712.7h1v1h-1zM121.4 731.5h1v1h-1zM120.6 709.5h1v1h-1zM106.6 715.2h1v1h-1zM112.7 709.3h1v1h-1zM121.1 719.1h1v1h-1zM123.5 726.1h1v1h-1zM113.1 710.3h1v1h-1zM113.7 707.3h1v1h-1zM115.3 708.7h1v1h-1zM125.0 706.7h1v1h-1zM126.1 702.3h1v1h-1zM116.5 705.4h1v1h-1zM120.1 720.2h1v1h-1zM117.0 710.2h1v1h-1zM112.8 708.6h1v1h-1zM113.8 710.1h1v1h-1zM120.4 723.6h1v1h-1zM117.3 723.1h1v1h-1zM112.5 719.1h1v1h-1zM111.5 704.8h1v1h-1zM121.5 699.7h1v1h-1zM112.3 719.1h1v1h-1zM116.2 709.6h1v1h-1zM123.7 707.8h1v1h-1zM111.5 712.2h1v1h-1zM119.3 717.0h1v1h-1zM118.5 726.1h1v1h-1zM123.9 714.5h1v1h-1zM136.5 702.2h1v1h-1zM121.6 709.0h1v1h-1zM135.3 718.2h1v1h-1zM125.7 719.2h1v1h-1zM130.4 711.0h1v1h-1zM126.3 700.8h1v1h-1zM123.9 725.6h1v1h-1zM126.1 720.9h1v1h-1zM106.2 716.4h1v1h-1zM117.3 728.9h1v1h-1zM123.7 721.4h1v1h-1zM129.2 720.3h1v1h-1zM109.8 708.7h1v1h-1zM104.6 726.2h1v1h-1zM118.3 704.5h1v1h-1zM123.3 712.0h1v1h-1zM117.5 727.0h1v1h-1zM104.8 702.9h1v1h-1zM119.0 713.5h1v1h-1zM127.9 712.5h1v1h-1zM123.5 730.7h1v1h-1zM109.8 703.3h1v1h-1zM114.5 713.8h1v1h-1zM111.7 717.9h1v1h-1zM114.1 725.5h1v1h-1zM123.4 721.5h1v1h-1zM121.3 717.4h1v1h-1zM107.9 713.7h1v1h-1zM106.8 727.1h1v1h-1zM111.5 707.7h1v1h-1zM116.4 734.8h1v1h-1zM111.6 730.2h1v1h-1zM118.1 710.8h1v1h-1zM119.5 710.8h1v1h-1zM114.5 721.8h1v1h-1zM116.4 723.3h1v1h-1zM124.0 723.7h1v1h-1zM131.1 724.9h1v1h-1zM112.8 727.3h1v1h-1zM101.7 726.7h1v1h-1zM128.5 706.3h1v1h-1zM127.0 712.1h1v1h-1zM117.6 714.1h1v1h-1zM115.6 722.0h1v1h-1zM119.3 715.2h1v1h-1zM120.1 712.5h1v1h-1zM112.4 720.8h1v1h-1zM125.8 705.3h1v1h-1zM126.7 726.7h1v1h-1zM121.0 728.4h1v1h-1zM104.0 727.6h1v1h-1zM114.3 718.3h1v1h-1zM116.8 721.5h1v1h-1zM109.1 713.1h1v1h-1zM122.8 714.7h1v1h-1zM114.3 728.7h1v1h-1zM108.5 716.4h1v1h-1zM118.5 712.5h1v1h-1zM124.5 717.7h1v1h-1zM118.4 721.4h1v1h-1zM119.2 720.3h1v1h-1zM129.0 717.8h1v1h-1zM120.2 710.7h1v1h-1zM130.0 724.1h1v1h-1zM123.6 718.4h1v1h-1zM113.7 716.4h1v1h-1zM121.9 705.6h1v1h-1zM112.8 714.7h1v1h-1zM133.7 718.9h1v1h-1zM109.2 726.8h1v1h-1zM126.3 721.9h1v1h-1zM115.8 714.7h1v1h-1zM135.7 725.5h1v1h-1zM108.3 712.0h1v1h-1zM113.1 709.9h1v1h-1zM125.1 727.4h1v1h-1zM109.4 720.7h1v1h-1zM126.0 718.0h1v1h-1zM129.7 725.9h1v1h-1zM113.9 717.0h1v1h-1zM121.8 705.3h1v1h-1zM118.1 724.7h1v1h-1zM122.6 716.0h1v1h-1zM126.8 708.2h1v1h-1zM128.7 711.9h1v1h-1zM118.5 712.2h1v1h-1zM110.5 720.8h1v1h-1zM110.8 723.1h1v1h-1zM113.9 726.9h1v1h-1zM122.3 726.1h1v1h-1zM111.8 720.8h1v1h-1zM125.3 718.3h1v1h-1zM119.0 710.7h1v1h-1zM110.6 706.7h1v1h-1zM114.3 721.9h1v1h-1zM120.1 714.0h1v1h-1zM114.1 717.4h1v1h-1zM108.6 710.9h1v1h-1zM125.7 707.8h1v1h-1zM118.9 712.6h1v1h-1zM113.5 709.1h1v1h-1zM112.3 715.4h1v1h-1zM122.1 721.4h1v1h-1zM122.5 705.6h1v1h-1zM130.1 719.0h1v1h-1zM125.3 704.6h1v1h-1zM127.8 736.1h1v1h-1zM123.7 725.8h1v1h-1zM115.6 717.3h1v1h-1zM119.5 721.7h1v1h-1zM121.1 718.3h1v1h-1zM113.2 705.4h1v1h-1zM112.7 720.6h1v1h-1zM129.7 710.3h1v1h-1zM107.9 719.2h1v1h-1zM119.6 708.3h1v1h-1zM131.0 722.2h1v1h-1zM119.9 703.8h1v1h-1zM129.2 726.0h1v1h-1zM126.1 730.4h1v1h-1zM112.3 707.1h1v1h-1zM126.4 719.9h1v1h-1zM119.6 711.7h1v1h-1zM127.5 718.2h1v1h-1zM126.4 705.9h1v1h-1zM120.4 719.7h1v1h-1zM127.5 701.2h1v1h-1zM118.5 710.2h1v1h-1zM120.0 714.7h1v1h-1zM123.1 723.0h1v1h-1zM121.9 715.4h1v1h-1zM126.5 728.4h1v1h-1zM120.5 708.9h1v1h-1zM133.1 724.1h1v1h-1zM136.1 712.4h1v1h-1zM117.1 714.5h1v1h-1zM119.3 703.0h1v1h-1zM126.2 702.8h1v1h-1zM99.4 715.6h1v1h-1zM112.1 718.3h1v1h-1zM111.4 704.0h1v1h-1zM104.8 704.8h1v1h-1zM117.8 735.0h1v1h-1zM125.0 710.3h1v1h-1zM130.0 718.2h1v1h-1zM106.1 700.4h1v1h-1zM108.8 710.8h1v1h-1zM120.3 710.5h1v1h-1zM116.0 707.6h1v1h-1zM121.3 723.1h1v1h-1zM112.1 727.1h1v1h-1zM113.8 713.5h1v1h-1zM132.4 721.4h1v1h-1zM120.6 712.8h1v1h-1zM118.4 725.8h1v1h-1zM115.9 732.0h1v1h-1zM120.4 717.5h1v1h-1zM117.7 716.9h1v1h-1zM130.1 718.2h1v1h-1zM112.6 709.1h1v1h-1zM128.7 720.9h1v1h-1zM113.7 714.9h1v1h-1zM120.7 721.2h1v1h-1zM112.9 716.9h1v1h-1zM110.4 709.1h1v1h-1zM118.3 728.1h1v1h-1zM119.3 730.9h1v1h-1zM122.9 727.6h1v1h-1zM118.8 699.9h1v1h-1zM103.8 712.2h1v1h-1zM133.3 714.6h1v1h-1zM116.3 721.5h1v1h-1zM117.2 712.6h1v1h-1zM121.5 719.6h1v1h-1zM115.7 708.8h1v1h-1zM132.0 708.3h1v1h-1zM113.3 714.4h1v1h-1zM118.9 718.7h1v1h-1zM131.7 727.7h1v1h-1zM119.7 717.1h1v1h-1zM127.3 714.9h1v1h-1zM121.3 706.2h1v1h-1zM123.0 715.3h1v1h-1zM109.3 718.2h1v1h-1zM136.5 719.1h1v1h-1zM114.1 727.5h1v1h-1zM122.7 717.7h1v1h-1zM131.3 724.2h1v1h-1zM135.6 708.9h1v1h-1zM116.8 715.2h1v1h-1zM121.5 705.5h1v1h-1zM122.2 703.5h1v1h-1zM115.8 713.8h1v1h-1zM121.9 718.9h1v1h-1zM114.4 719.1h1v1h-1zM122.3 715.2h1v1h-1zM120.2 711.5h1v1h-1zM133.5 728.3h1v1h-1zM121.9 727.9h1v1h-1zM113.5 711.4h1v1h-1zM117.6 720.0h1v1h-1zM117.6 707.8h1v1h-1zM108.8 706.2h1v1h-1zM127.0 720.3h1v1h-1zM109.5 732.7h1v1h-1zM116.4 711.9h1v1h-1zM118.8 716.4h1v1h-1zM117.2 715.7h1v1h-1zM125.8 724.2h1v1h-1zM115.0 714.5h1v1h-1zM114.4 712.1h1v1h-1zM119.3 713.2h1v1h-1zM124.4 707.8h1v1h-1zM122.9 722.6h1v1h-1zM117.7 713.1h1v1h-1zM124.5 712.7h1v1h-1zM117.5 717.9h1v1h-1zM101.6 722.2h1v1h-1zM121.8 721.2h1v1h-1zM109.7 712.3h1v1h-1zM123.3 721.0h1v1h-1zM115.6 711.9h1v1h-1zM131.4 718.4h1v1h-1zM129.2 704.0h1v1h-1zM123.2 711.1h1v1h-1zM116.3 727.3h1v1h-1zM112.1 707.6h1v1h-1zM114.8 713.9h1v1h-1zM120.2 719.8h1v1h-1zM129.3 720.2h1v1h-1zM133.1 725.5h1v1h-1zM124.1 714.7h1v1h-1zM130.3 713.3h1v1h-1zM127.4 716.3h1v1h-1zM115.9 721.9h1v1h-1zM125.1 718.8h1v1h-1zM128.1 717.1h1v1h-1zM114.6 716.8h1v1h-1zM133.9 707.4h1v1h-1zM106.5 716.0h1v1h-1zM112.4 728.0h1v1h-1zM121.2 707.7h1v1h-1zM119.6 707.6h1v1h-1zM123.6 724.3h1v1h-1zM129.0 725.4h1v1h-1zM119.9 726.6h1v1h-1zM123.7 704.7h1v1h-1zM130.1 708.2h1v1h-1zM115.6 702.2h1v1h-1zM110.9 708.6h1v1h-1zM111.2 712.6h1v1h-1zM125.9 713.3h1v1h-1zM123.3 725.9h1v1h-1zM115.5 729.2h1v1h-1zM119.7 715.6h1v1h-1zM122.7 728.1h1v1h-1zM111.0 724.2h1v1h-1zM116.4 716.8h1v1h-1zM128.7 722.8h1v1h-1zM112.2 707.9h1v1h-1zM111.1 715.6h1v1h-1zM135.2 714.8h1v1h-1zM107.4 722.6h1v1h-1zM113.3 701.9h1v1h-1zM122.9 716.0h1v1h-1zM121.3 722.4h1v1h-1zM121.3 726.3h1v1h-1zM129.2 706.8h1v1h-1zM106.4 706.1h1v1h-1zM122.9 714.2h1v1h-1zM126.1 714.4h1v1h-1zM110.6 706.1h1v1h-1zM118.3 723.4h1v1h-1zM131.0 707.1h1v1h-1zM123.3 715.4h1v1h-1zM111.4 705.5h1v1h-1zM131.6 712.1h1v1h-1zM119.3 720.1h1v1h-1zM122.7 722.2h1v1h-1zM114.0 712.6h1v1h-1zM121.9 719.1h1v1h-1zM114.6 700.8h1v1h-1zM126.4 723.6h1v1h-1zM127.0 714.9h1v1h-1zM106.6 712.5h1v1h-1zM135.1 718.7h1v1h-1zM121.9 701.5h1v1h-1zM115.2 724.7h1v1h-1zM122.5 714.8h1v1h-1zM129.3 722.4h1v1h-1zM124.1 714.5h1v1h-1zM123.1 725.3h1v1h-1zM122.3 704.8h1v1h-1zM118.7 713.5h1v1h-1zM123.1 727.3h1v1h-1zM119.5 712.1h1v1h-1zM125.5 720.2h1v1h-1zM114.2 720.1h1v1h-1zM121.4 719.1h1v1h-1zM108.8 700.9h1v1h-1zM127.2 724.9h1v1h-1zM110.4 729.1h1v1h-1zM111.6 708.8h1v1h-1zM136.1 704.5h1v1h-1zM125.2 723.3h1v1h-1zM128.3 721.9h1v1h-1zM121.9 729.8h1v1h-1zM119.4 716.9h1v1h-1zM123.0 713.0h1v1h-1zM118.9 726.8h1v1h-1zM132.1 721.4h1v1h-1zM119.2 711.6h1v1h-1zM117.1 712.8h1v1h-1zM116.7 715.2h1v1h-1zM118.4 725.6h1v1h-1zM109.5 712.4h1v1h-1zM126.1 712.4h1v1h-1zM117.0 721.0h1v1h-1zM119.4 707.4h1v1h-1zM121.2 721.7h1v1h-1zM107.5 724.2h1v1h-1zM107.3 722.3h1v1h-1zM110.3 718.1h1v1h-1zM119.7 725.2h1v1h-1zM119.5 712.3h1v1h-1zM114.5 718.0h1v1h-1zM118.3 723.9h1v1h-1zM123.1 727.2h1v1h-1zM125.4 717.7h1v1h-1zM119.6 721.7h1v1h-1zM125.8 704.2h1v1h-1zM123.0 712.9h1v1h-1zM122.5 723.2h1v1h-1zM105.8 715.1h1v1h-1zM127.5 700.6h1v1h-1zM121.8 716.2h1v1h-1zM115.9 724.1h1v1h-1zM127.0 716.3h1v1h-1zM130.6 729.2h1v1h-1zM121.6 723.6h1v1h-1zM126.6 731.6h1v1h-1zM126.1 722.3h1v1h-1zM121.0 722.7h1v1h-1zM131.9 715.5h1v1h-1zM119.4 707.6h1v1h-1zM116.5 711.1h1v1h-1zM129.0 719.4h1v1h-1zM105.1 717.5h1v1h-1zM133.8 715.8h1v1h-1zM118.4 714.4h1v1h-1zM123.5 701.8h1v1h-1zM119.1 714.3h1v1h-1zM125.8 713.1h1v1h-1zM121.3 704.9h1v1h-1zM110.9 716.8h1v1h-1zM132.4 707.6h1v1h-1zM108.4 726.8h1v1h-1zM123.2 723.4h1v1h-1zM119.0 718.5h1v1h-1zM119.6 716.3h1v1h-1zM133.6 712.8h1v1h-1zM117.3 716.4h1v1h-1zM118.9 731.4h1v1h-1zM119.1 719.9h1v1h-1zM111.2 721.2h1v1h-1zM125.1 722.2h1v1h-1zM108.4 710.8h1v1h-1zM100.7 731.3h1v1h-1zM119.5 731.0h1v1h-1zM134.6 725.6h1v1h-1zM115.6 714.5h1v1h-1zM130.6 729.6h1v1h-1zM126.8 713.8h1v1h-1zM123.0 702.1h1v1h-1zM113.2 712.4h1v1h-1zM114.7 731.3h1v1h-1zM128.9 720.9h1v1h-1zM118.6 709.9h1v1h-1zM135.7 718.5h1v1h-1zM122.3 702.0h1v1h-1zM116.0 724.4h1v1h-1zM121.3 712.3h1v1h-1zM118.0 702.1h1v1h-1zM102.0 721.1h1v1h-1zM109.5 702.3h1v1h-1zM122.6 724.7h1v1h-1zM117.7 726.2h1v1h-1zM132.4 706.6h1v1h-1zM132.1 713.8h1v1h-1zM119.7 712.1h1v1h-1zM112.7 721.7h1v1h-1zM132.7 727.9h1v1h-1zM116.1 720.8h1v1h-1zM128.1 721.5h1v1h-1zM110.5 734.7h1v1h-1zM114.7 708.9h1v1h-1zM121.3 718.4h1v1h-1zM116.1 704.5h1v1h-1zM111.1 716.3h1v1h-1zM106.2 726.4h1v1h-1zM125.1 718.2h1v1h-1zM121.8 708.5h1v1h-1zM116.1 724.3h1v1h-1zM116.4 730.6h1v1h-1zM127.9 722.5h1v1h-1zM118.5 707.9h1v1h-1zM119.1 707.6h1v1h-1zM117.5 713.1h1v1h-1zM116.0 726.5h1v1h-1zM113.6 709.5h1v1h-1zM129.1 718.6h1v1h-1zM124.0 710.6h1v1h-1zM122.7 728.1h1v1h-1zM120.4 720.1h1v1h-1zM129.4 721.7h1v1h-1zM129.5 705.6h1v1h-1zM107.1 706.2h1v1h-1zM123.4 710.2h1v1h-1zM105.2 732.5h1v1h-1zM130.0 711.4h1v1h-1zM115.3 710.0h1v1h-1zM125.6 720.3h1v1h-1zM121.3 728.6h1v1h-1zM114.1 705.5h1v1h-1zM120.2 715.8h1v1h-1zM120.9 720.0h1v1h-1zM108.6 730.5h1v1h-1zM106.8 719.2h1v1h-1zM122.9 723.7h1v1h-1zM121.9 708.9h1v1h-1zM118.7 703.9h1v1h-1zM119.0 714.2h1v1h-1zM106.2 736.0h1v1h-1zM115.7 721.1h1v1h-1zM130.0 716.0h1v1h-1zM117.1 706.2h1v1h-1zM114.7 709.7h1v1h-1zM119.0 723.4h1v1h-1zM121.6 729.7h1v1h-1zM123.2 718.4h1v1h-1zM122.2 702.9h1v1h-1zM119.7 709.9h1v1h-1zM118.6 715.9h1v1h-1zM118.1 715.7h1v1h-1zM122.8 719.0h1v1h-1zM115.2 724.4h1v1h-1zM120.6 719.5h1v1h-1zM133.3 731.2h1v1h-1zM136.5 714.1h1v1h-1zM123.3 720.6h1v1h-1zM121.0 714.9h1v1h-1zM126.4 726.5h1v1h-1zM136.7 711.4h1v1h-1zM123.7 709.5h1v1h-1zM136.1 701.9h1v1h-1zM121.0 700.2h1v1h-1zM117.7 707.0h1v1h-1zM104.5 706.8h1v1h-1zM118.5 715.1h1v1h-1zM105.6 721.9h1v1h-1zM117.8 706.0h1v1h-1zM131.5 709.9h1v1h-1zM121.9 729.8h1v1h-1zM120.6 715.2h1v1h-1zM127.4 712.3h1v1h-1zM120.7 714.8h1v1h-1zM117.3 722.9h1v1h-1zM122.2 728.9h1v1h-1zM123.1 703.5h1v1h-1zM123.1 713.6h1v1h-1zM118.3 724.9h1v1h-1zM123.3 701.8h1v1h-1zM135.2 714.9h1v1h-1zM107.9 713.2h1v1h-1zM123.8 706.1h1v1h-1zM113.7 700.1h1v1h-1zM122.2 711.4h1v1h-1zM131.5 718.6h1v1h-1zM122.0 710.7h1v1h-1zM127.5 703.8h1v1h-1zM122.2 720.5h1v1h-1zM114.3 705.5h1v1h-1zM128.8 732.6h1v1h-1zM123.1 732.6h1v1h-1zM123.6 714.5h1v1h-1zM117.1 705.2h1v1h-1zM127.0 711.1h1v1h-1zM115.3 719.4h1v1h-1zM123.8 709.5h1v1h-1zM121.7 714.7h1v1h-1zM121.1 714.9h1v1h-1zM115.6 726.8h1v1h-1zM117.6 717.7h1v1h-1zM124.6 707.1h1v1h-1zM120.6 713.7h1v1h-1zM122.8 721.6h1v1h-1zM120.7 714.2h1v1h-1zM127.2 717.2h1v1h-1zM109.0 727.4h1v1h-1zM123.5 710.8h1v1h-1zM119.7 707.5h1v1h-1zM121.1 702.9h1v1h-1zM127.6 720.3h1v1h-1zM112.6 720.6h1v1h-1zM109.2 711.3h1v1h-1zM112.6 722.3h1v1h-1zM125.3 704.0h1v1h-1zM121.4 720.6h1v1h-1zM108.3 728.0h1v1h-1zM131.3 712.9h1v1h-1zM111.6 726.9h1v1h-1zM101.5 715.7h1v1h-1zM109.3 715.9h1v1h-1zM115.8 704.4h1v1h-1zM124.2 726.5h1v1h-1zM109.8 721.9h1v1h-1zM120.8 710.0h1v1h-1zM116.1 721.1h1v1h-1zM128.5 713.5h1v1h-1zM101.6 723.2h1v1h-1zM116.1 715.9h1v1h-1zM117.8 718.7h1v1h-1zM113.4 721.8h1v1h-1zM99.4 719.2h1v1h-1zM115.6 714.9h1v1h-1zM124.9 728.2h1v1h-1zM112.3 715.1h1v1h-1zM112.3 716.4h1v1h-1zM115.6 705.2h1v1h-1zM128.4 719.2h1v1h-1zM120.0 727.9h1v1h-1zM107.7 719.5h1v1h-1zM132.0 712.7h1v1h-1zM113.4 708.8h1v1h-1zM129.2 725.5h1v1h-1zM122.4 724.3h1v1h-1zM114.9 712.4h1v1h-1zM126.2 707.4h1v1h-1zM121.6 715.7h1v1h-1zM113.5 717.8h1v1h-1zM110.3 710.1h1v1h-1zM105.0 704.5h1v1h-1zM113.3 719.1h1v1h-1zM120.0 704.6h1v1h-1zM118.0 736.2h1v1h-1zM120.5 719.5h1v1h-1zM104.0 711.3h1v1h-1zM128.4 702.9h1v1h-1zM113.1 709.1h1v1h-1zM118.9 721.2h1v1h-1zM106.7 722.0h1v1h-1zM100.0 707.5h1v1h-1zM122.9 705.3h1v1h-1zM113.4 710.9h1v1h-1zM131.8 706.6h1v1h-1zM127.0 733.5h1v1h-1zM116.9 708.4h1v1h-1zM119.7 706.6h1v1h-1zM116.9 706.0h1v1h-1zM108.5 701.1h1v1h-1zM126.6 709.5h1v1h-1zM111.0 725.3h1v1h-1zM118.3 712.5h1v1h-1zM113.9 715.6h1v1h-1zM117.3 711.6h1v1h-1zM118.3 722.5h1v1h-1zM118.2 727.4h1v1h-1zM127.0 706.2h1v1h-1zM112.3 703.9h1v1h-1zM113.9 722.0h1v1h-1zM117.0 711.0h1v1h-1zM122.0 713.8h1v1h-1zM124.6 712.8h1v1h-1zM127.1 725.1h1v1h-1zM117.3 720.6h1v1h-1zM112.8 709.0h1v1h-1zM111.3 713.5h1v1h-1zM110.3 705.6h1v1h-1zM117.9 702.2h1v1h-1zM97.4 700.0h1v1h-1zM85.6 707.5h1v1h-1zM85.7 704.0h1v1h-1zM74.3 712.7h1v1h-1zM98.0 710.7h1v1h-1zM89.8 729.0h1v1h-1zM81.7 720.4h1v1h-1zM72.8 717.6h1v1h-1zM65.2 720.6h1v1h-1zM78.8 723.2h1v1h-1zM81.2 718.9h1v1h-1zM74.4 714.2h1v1h-1zM96.9 725.2h1v1h-1zM73.8 704.7h1v1h-1zM98.8 718.9h1v1h-1zM77.5 718.2h1v1h-1zM96.8 735.1h1v1h-1zM84.3 726.3h1v1h-1zM84.3 708.0h1v1h-1zM83.2 714.7h1v1h-1zM68.1 706.9h1v1h-1zM83.2 702.0h1v1h-1zM93.6 708.7h1v1h-1zM73.5 723.9h1v1h-1zM98.6 700.0h1v1h-1zM71.2 721.8h1v1h-1zM83.2 711.4h1v1h-1zM98.0 706.5h1v1h-1zM90.7 708.7h1v1h-1zM78.1 712.0h1v1h-1zM76.3 711.6h1v1h-1zM75.8 708.0h1v1h-1zM88.4 719.9h1v1h-1zM91.0 722.6h1v1h-1zM75.2 718.5h1v1h-1zM89.2 722.0h1v1h-1zM88.4 711.8h1v1h-1zM87.4 709.5h1v1h-1zM74.5 703.1h1v1h-1zM89.0 714.1h1v1h-1zM98.1 717.5h1v1h-1zM72.4 731.8h1v1h-1zM95.2 719.4h1v1h-1zM74.4 705.6h1v1h-1zM93.0 702.0h1v1h-1zM94.3 727.0h1v1h-1zM92.3 711.3h1v1h-1zM84.2 721.0h1v1h-1zM89.3 732.6h1v1h-1zM85.5 706.8h1v1h-1zM92.5 712.9h1v1h-1zM74.2 707.6h1v1h-1zM74.9 720.6h1v1h-1zM78.2 711.4h1v1h-1zM86.6 708.5h1v1h-1zM75.3 710.4h1v1h-1zM80.7 706.3h1v1h-1zM95.1 703.8h1v1h-1zM75.7 708.4h1v1h-1zM77.0 709.5h1v1h-1zM79.3 714.5h1v1h-1zM79.7 715.2h1v1h-1zM85.4 720.7h1v1h-1zM78.9 708.9h1v1h-1zM88.0 701.9h1v1h-1zM93.6 710.3h1v1h-1zM85.9 703.3h1v1h-1zM81.7 703.1h1v1h-1zM78.8 711.5h1v1h-1zM70.4 707.7h1v1h-1zM96.1 704.4h1v1h-1zM73.6 705.4h1v1h-1zM78.0 718.7h1v1h-1zM66.2 708.0h1v1h-1zM76.6 703.2h1v1h-1zM84.0 704.2h1v1h-1zM88.7 713.1h1v1h-1zM90.2 706.3h1v1h-1zM76.3 736.4h1v1h-1zM92.3 705.5h1v1h-1zM95.7 730.8h1v1h-1zM88.0 709.6h1v1h-1zM81.1 710.6h1v1h-1zM88.2 729.3h1v1h-1zM97.8 718.0h1v1h-1zM89.1 705.9h1v1h-1zM66.8 731.5h1v1h-1zM83.2 715.7h1v1h-1zM82.4 703.0h1v1h-1zM93.3 700.9h1v1h-1zM97.7 725.6h1v1h-1zM83.2 714.1h1v1h-1zM86.2 709.3h1v1h-1zM87.0 706.2h1v1h-1zM81.8 700.5h1v1h-1zM80.3 713.4h1v1h-1zM71.6 699.9h1v1h-1zM89.0 699.9h1v1h-1zM78.7 708.9h1v1h-1zM81.6 701.5h1v1h-1zM92.5 702.3h1v1h-1zM85.7 715.4h1v1h-1zM69.0 729.0h1v1h-1zM83.4 719.0h1v1h-1zM79.9 704.8h1v1h-1zM97.4 712.6h1v1h-1zM91.5 701.1h1v1h-1zM78.7 711.0h1v1h-1zM63.6 726.0h1v1h-1zM89.8 724.6h1v1h-1zM76.9 727.5h1v1h-1zM82.2 702.4h1v1h-1zM96.1 711.9h1v1h-1zM90.0 708.4h1v1h-1zM70.7 722.8h1v1h-1zM90.2 704.8h1v1h-1zM64.2 717.4h1v1h-1zM82.1 721.2h1v1h-1zM88.1 718.8h1v1h-1zM64.2 724.0h1v1h-1zM97.1 708.3h1v1h-1zM64.3 727.4h1v1h-1zM82.9 705.9h1v1h-1zM75.1 707.7h1v1h-1zM85.6 709.9h1v1h-1zM73.3 729.4h1v1h-1zM87.8 719.5h1v1h-1zM83.6 722.1h1v1h-1zM87.0 706.6h1v1h-1zM97.9 709.4h1v1h-1zM89.1 700.7h1v1h-1zM98.8 728.1h1v1h-1zM86.0 713.5h1v1h-1zM87.6 722.1h1v1h-1zM97.7 709.2h1v1h-1zM93.3 723.3h1v1h-1zM85.9 719.4h1v1h-1zM90.0 710.7h1v1h-1zM82.7 710.5h1v1h-1zM85.5 721.2h1v1h-1zM97.5 727.8h1v1h-1zM67.6 711.1h1v1h-1zM83.0 725.2h1v1h-1zM73.6 706.4h1v1h-1zM75.9 710.0h1v1h-1zM84.8 709.8h1v1h-1zM84.6 721.7h1v1h-1zM80.3 721.2h1v1h-1zM96.8 714.7h1v1h-1zM91.6 725.0h1v1h-1zM75.7 717.5h1v1h-1zM69.2 726.8h1v1h-1zM95.7 722.6h1v1h-1zM96.6 729.3h1v1h-1zM81.8 718.8h1v1h-1zM87.2 713.2h1v1h-1zM65.7 716.3h1v1h-1zM91.6 724.3h1v1h-1zM64.4 729.7h1v1h-1zM64.6 718.7h1v1h-1zM69.2 710.8h1v1h-1zM71.1 722.1h1v1h-1zM87.9 731.8h1v1h-1zM80.7 702.2h1v1h-1zM64.3 703.1h1v1h-1zM67.5 706.3h1v1h-1zM73.4 705.4h1v1h-1zM92.8 712.9h1v1h-1zM79.8 728.2h1v1h-1zM69.3 718.0h1v1h-1zM64.4 717.5h1v1h-1zM95.5 720.4h1v1h-1zM73.6 722.8h1v1h-1zM80.6 717.9h1v1h-1zM85.3 725.6h1v1h-1zM94.2 735.2h1v1h-1zM96.6 729.2h1v1h-1zM86.9 728.8h1v1h-1zM69.8 707.1h1v1h-1zM92.5 715.7h1v1h-1zM63.7 726.8h1v1h-1zM67.7 709.8h1v1h-1zM95.2 706.8h1v1h-1zM91.9 709.6h1v1h-1zM90.8 713.7h1v1h-1zM82.7 724.6h1v1h-1zM88.1 707.5h1v1h-1zM86.5 706.0h1v1h-1zM71.6 728.0h1v1h-1zM68.3 714.9h1v1h-1zM67.0 721.0h1v1h-1zM69.1 713.0h1v1h-1zM97.3 716.0h1v1h-1zM80.5 701.2h1v1h-1zM72.2 703.8h1v1h-1zM84.7 705.5h1v1h-1zM69.2 705.2h1v1h-1zM88.9 723.5h1v1h-1zM73.2 711.3h1v1h-1zM72.7 719.7h1v1h-1zM82.9 704.8h1v1h-1zM68.4 722.6h1v1h-1zM72.8 724.0h1v1h-1zM69.1 703.5h1v1h-1zM65.4 730.9h1v1h-1zM81.8 700.7h1v1h-1zM75.5 722.7h1v1h-1zM70.7 729.9h1v1h-1zM63.2 718.9h1v1h-1zM83.1 706.8h1v1h-1zM97.5 719.7h1v1h-1zM67.6 727.2h1v1h-1zM64.0 724.6h1v1h-1zM92.2 723.0h1v1h-1zM63.8 702.3h1v1h-1zM92.1 730.5h1v1h-1zM72.4 733.4h1v1h-1zM91.5 703.9h1v1h-1zM94.0 700.5h1v1h-1zM74.4 707.5h1v1h-1zM70.4 718.0h1v1h-1zM64.6 734.8h1v1h-1zM70.4 724.6h1v1h-1zM75.3 733.0h1v1h-1zM82.6 717.9h1v1h-1zM89.6 720.2h1v1h-1zM78.8 706.2h1v1h-1zM91.0 722.6h1v1h-1zM79.2 735.6h1v1h-1zM79.3 726.7h1v1h-1zM68.7 712.9h1v1h-1zM85.1 709.3h1v1h-1zM97.9 735.7h1v1h-1zM85.6 725.9h1v1h-1zM72.5 727.8h1v1h-1zM93.1 716.5h1v1h-1zM82.8 723.6h1v1h-1zM71.7 701.7h1v1h-1zM69.4 718.9h1v1h-1zM85.3 730.8h1v1h-1zM72.4 706.0h1v1h-1zM77.7 705.9h1v1h-1zM72.1 717.6h1v1h-1zM87.0 703.8h1v1h-1zM69.1 717.0h1v1h-1zM81.2 706.3h1v1h-1zM86.1 720.3h1v1h-1zM96.7 734.3h1v1h-1zM85.0 703.2h1v1h-1zM81.3 709.8h1v1h-1zM72.8 702.7h1v1h-1zM87.2 723.6h1v1h-1zM72.6 708.3h1v1h-1zM97.7 719.9h1v1h-1zM87.4 708.9h1v1h-1zM96.0 725.9h1v1h-1zM80.8 704.0h1v1h-1zM78.3 700.9h1v1h-1zM70.4 728.1h1v1h-1zM66.9 707.4h1v1h-1zM75.0 734.8h1v1h-1zM68.8 715.0h1v1h-1zM81.6 701.6h1v1h-1zM82.7 702.5h1v1h-1zM74.2 711.6h1v1h-1zM97.9 715.8h1v1h-1zM73.5 711.9h1v1h-1zM73.5 705.8h1v1h-1zM74.1 724.9h1v1h-1zM75.3 708.3h1v1h-1zM64.3 728.4h1v1h-1zM73.4 709.7h1v1h-1zM92.7 734.9h1v1h-1zM82.3 702.5h1v1h-1zM92.3 727.5h1v1h-1zM63.6 710.4h1v1h-1zM92.2 717.1h1v1h-1zM69.2 735.5h1v1h-1zM70.4 706.5h1v1h-1zM87.3 735.5h1v1h-1zM87.8 700.7h1v1h-1zM63.7 707.7h1v1h-1zM86.3 734.5h1v1h-1zM67.0 724.1h1v1h-1zM86.6 701.1h1v1h-1zM94.6 711.3h1v1h-1zM76.1 728.5h1v1h-1zM82.0 722.5h1v1h-1zM65.0 722.4h1v1h-1zM68.2 729.7h1v1h-1zM90.1 723.4h1v1h-1zM85.6 735.2h1v1h-1zM92.0 725.8h1v1h-1zM75.6 700.5h1v1h-1zM98.0 702.3h1v1h-1zM64.5 721.4h1v1h-1zM97.7 716.0h1v1h-1zM70.3 700.7h1v1h-1zM68.6 713.0h1v1h-1zM75.2 709.7h1v1h-1zM143.7 736.0h1v1h-1zM148.9 707.1h1v1h-1zM134.2 705.9h1v1h-1zM122.0 718.0h1v1h-1zM114.4 728.2h1v1h-1zM109.4 728.9h1v1h-1zM137.8 722.6h1v1h-1zM102.0 704.4h1v1h-1zM139.9 734.5h1v1h-1zM110.5 724.0h1v1h-1zM137.4 731.3h1v1h-1zM105.1 707.4h1v1h-1zM101.3 725.0h1v1h-1zM116.6 725.1h1v1h-1zM106.6 723.0h1v1h-1zM112.2 715.8h1v1h-1zM128.7 734.2h1v1h-1zM108.0 728.2h1v1h-1zM100.6 706.4h1v1h-1zM134.2 703.0h1v1h-1zM141.7 732.0h1v1h-1zM109.4 725.4h1v1h-1zM131.7 735.2h1v1h-1zM123.8 713.3h1v1h-1zM143.7 709.6h1v1h-1zM145.5 713.0h1v1h-1zM119.2 730.1h1v1h-1zM137.3 706.6h1v1h-1zM132.3 735.6h1v1h-1zM118.8 720.1h1v1h-1zM132.1 725.9h1v1h-1zM118.3 713.7h1v1h-1zM107.2 722.5h1v1h-1zM115.2 728.3h1v1h-1zM100.3 727.3h1v1h-1zM106.3 731.3h1v1h-1zM140.8 712.8h1v1h-1zM103.2 707.6h1v1h-1zM108.8 735.2h1v1h-1zM139.9 700.9h1v1h-1zM100.6 639.0h1v1h-1zM131.8 638.8h1v1h-1z" fill="#4a4a4a" filter="url(#bl)"/>
<path d="M62.3 738.2 V622.6 H172.5 V738.2" fill="none" stroke="#222" stroke-width="1.1"/>
<line x1="98.4" y1="622.6" x2="98.4" y2="738.2" stroke="#222" stroke-width="1.1"/>
<line x1="62.3" y1="699.4" x2="172.5" y2="699.4" stroke="#222" stroke-width="1.1"/>
<rect x="100.5" y="652.4" width="53.9" height="41.9" fill="none" stroke="#222" stroke-width="1.1"/>
<text x="142" y="665" font-family="'Liberation Serif',serif" font-size="11" text-anchor="start" fill="#222">R2</text>
<line x1="63" y1="738.3" x2="172" y2="738.3" stroke="#444" stroke-width="1" stroke-dasharray="1.5 2"/>
<line x1="60.5" y1="622.6" x2="62.3" y2="622.6" stroke="#333" stroke-width="1"/>
<line x1="60.5" y1="651.25" x2="62.3" y2="651.25" stroke="#333" stroke-width="1"/>
<line x1="60.5" y1="679.9" x2="62.3" y2="679.9" stroke="#333" stroke-width="1"/>
<line x1="60.5" y1="708.55" x2="62.3" y2="708.55" stroke="#333" stroke-width="1"/>
<line x1="60.5" y1="737.2" x2="62.3" y2="737.2" stroke="#333" stroke-width="1"/>
<text transform="translate(60.3,625.4) rotate(-90)" font-family="'Liberation Sans',sans-serif" font-size="6" font-weight="bold" text-anchor="middle" fill="#333">10<tspan dy="-2.4" font-size="4.3">4</tspan></text>
<text transform="translate(60.3,653.3) rotate(-90)" font-family="'Liberation Sans',sans-serif" font-size="6" font-weight="bold" text-anchor="middle" fill="#333">10<tspan dy="-2.4" font-size="4.3">3</tspan></text>
<text transform="translate(60.3,681.1999999999999) rotate(-90)" font-family="'Liberation Sans',sans-serif" font-size="6" font-weight="bold" text-anchor="middle" fill="#333">10<tspan dy="-2.4" font-size="4.3">2</tspan></text>
<text transform="translate(60.3,709.0999999999999) rotate(-90)" font-family="'Liberation Sans',sans-serif" font-size="6" font-weight="bold" text-anchor="middle" fill="#333">10<tspan dy="-2.4" font-size="4.3">1</tspan></text>
<text transform="translate(60.3,737.0) rotate(-90)" font-family="'Liberation Sans',sans-serif" font-size="6" font-weight="bold" text-anchor="middle" fill="#333">10<tspan dy="-2.4" font-size="4.3">0</tspan></text>
<text transform="translate(53.6,678) rotate(-90)" font-family="'Liberation Sans',sans-serif" font-size="5" font-weight="bold" text-anchor="middle" fill="#333">APC</text>
<text x="63" y="745.3" font-family="'Liberation Sans',sans-serif" font-size="6.2" font-weight="bold" text-anchor="middle" fill="#333">10<tspan dy="-2.6" font-size="4.5">0</tspan></text>
<text x="89" y="745.3" font-family="'Liberation Sans',sans-serif" font-size="6.2" font-weight="bold" text-anchor="middle" fill="#333">10<tspan dy="-2.6" font-size="4.5">1</tspan></text>
<text x="116.4" y="745.3" font-family="'Liberation Sans',sans-serif" font-size="6.2" font-weight="bold" text-anchor="middle" fill="#333">10<tspan dy="-2.6" font-size="4.5">2</tspan></text>
<text x="143.8" y="745.3" font-family="'Liberation Sans',sans-serif" font-size="6.2" font-weight="bold" text-anchor="middle" fill="#333">10<tspan dy="-2.6" font-size="4.5">3</tspan></text>
<text x="171.2" y="745.3" font-family="'Liberation Sans',sans-serif" font-size="6.2" font-weight="bold" text-anchor="middle" fill="#333">10<tspan dy="-2.6" font-size="4.5">4</tspan></text>
<text x="117.3" y="750.5" font-family="'Liberation Sans',sans-serif" font-size="5" font-weight="bold" text-anchor="middle" fill="#333">PE</text>
<line x1="125.6" y1="677.3" x2="125.6" y2="783" stroke="#000" stroke-width="1.8"/>
<path d="M121.3 781 L129.4 781 L125.4 790 Z" fill="#000"/>
<text x="0" y="0" font-family="'Liberation Serif',serif" font-size="17" text-anchor="middle" transform="translate(38.3,672.4) rotate(-90)">c-kit-APC</text>
<text x="85.8" y="771.2" font-family="'Liberation Serif',serif" font-size="18" text-anchor="middle" >Sca1-PE</text>
<line x1="20.3" y1="791" x2="20.3" y2="892.8" stroke="#000" stroke-width="1.6"/>
<path d="M17.6 793 L23.2 793 L20.4 786.2 Z" fill="#000"/>
<line x1="19.5" y1="893" x2="229" y2="893" stroke="#000" stroke-width="1.6"/>
<path d="M227.7 890.2 L227.7 896.3 L234.5 893.2 Z" fill="#000"/>
<text x="0" y="0" font-family="'Liberation Serif',serif" font-size="19.3" stroke="#000" stroke-width="0.3" text-anchor="middle" transform="translate(13,844.2) rotate(-90) scale(0.9,1)">Counts</text>
<text x="105.8" y="907.7" font-family="'Liberation Serif',serif" font-size="13.5" text-anchor="middle" >TUNEL (FITC)</text>
<path d="M33.2 875.0 L33.2 794.2 L41.7 794.2 L41.7 806.3 L42.2 806.3 L42.2 833.8 L43.1 833.8 L43.1 849.6 L43.6 852.0 L43.8 860.8 L44.7 863.5 L45.4 865.5 L46.7 866.6 L48.2 867.8 L50.1 867.8 L52.5 866.3 L54.8 864.1 L56.5 863.0 L57.5 862.6 L60.9 862.6 L62.2 864.8 L63.6 866.8 L65.3 868.6 L66.9 870.2 L68.9 872.2 L72.3 873.6 L80.0 874.0 L90.0 874.3 L104.6 874.5 L104.6 875.0 Z" fill="#333" stroke="#1a1a1a" stroke-width="0.7"/>
<line x1="33" y1="791.5" x2="33" y2="875.5" stroke="#222" stroke-width="1"/>
<line x1="33" y1="875.4" x2="121.5" y2="875.4" stroke="#222" stroke-width="1.3"/>
<line x1="31" y1="795.5" x2="33" y2="795.5" stroke="#333" stroke-width="0.9"/>
<line x1="31" y1="811.4" x2="33" y2="811.4" stroke="#333" stroke-width="0.9"/>
<line x1="31" y1="827.3" x2="33" y2="827.3" stroke="#333" stroke-width="0.9"/>
<line x1="31" y1="843.2" x2="33" y2="843.2" stroke="#333" stroke-width="0.9"/>
<line x1="31" y1="859.1" x2="33" y2="859.1" stroke="#333" stroke-width="0.9"/>
<line x1="31" y1="875.0" x2="33" y2="875.0" stroke="#333" stroke-width="0.9"/>
<line x1="34.0" y1="875.4" x2="34.0" y2="877.3" stroke="#333" stroke-width="0.9"/>
<line x1="55.625" y1="875.4" x2="55.625" y2="877.3" stroke="#333" stroke-width="0.9"/>
<line x1="77.25" y1="875.4" x2="77.25" y2="877.3" stroke="#333" stroke-width="0.9"/>
<line x1="98.875" y1="875.4" x2="98.875" y2="877.3" stroke="#333" stroke-width="0.9"/>
<line x1="120.5" y1="875.4" x2="120.5" y2="877.3" stroke="#333" stroke-width="0.9"/>
<path d="M149.2 875.0 L149.2 794.5 L156.2 794.5 L156.2 813.7 L157.1 813.7 L157.1 827.2 L157.6 827.2 L157.6 839.3 L159.4 840.7 L160.8 850.5 L163.5 858.1 L166.0 862.6 L169.0 865.4 L172.0 867.5 L175.5 867.8 L178.0 865.0 L180.8 860.4 L182.5 858.0 L184.0 857.2 L185.5 858.0 L187.1 860.4 L189.0 864.0 L191.3 868.8 L195.6 871.4 L200.0 872.6 L204.0 873.1 L210.0 873.9 L218.9 874.6 L218.9 875.0 Z" fill="#333" stroke="#1a1a1a" stroke-width="0.7"/>
<line x1="148.8" y1="791.5" x2="148.8" y2="875.5" stroke="#222" stroke-width="1"/>
<line x1="148.8" y1="875.4" x2="235.8" y2="875.4" stroke="#222" stroke-width="1.3"/>
<line x1="146.8" y1="795.5" x2="148.8" y2="795.5" stroke="#333" stroke-width="0.9"/>
<line x1="146.8" y1="811.4" x2="148.8" y2="811.4" stroke="#333" stroke-width="0.9"/>
<line x1="146.8" y1="827.3" x2="148.8" y2="827.3" stroke="#333" stroke-width="0.9"/>
<line x1="146.8" y1="843.2" x2="148.8" y2="843.2" stroke="#333" stroke-width="0.9"/>
<line x1="146.8" y1="859.1" x2="148.8" y2="859.1" stroke="#333" stroke-width="0.9"/>
<line x1="146.8" y1="875.0" x2="148.8" y2="875.0" stroke="#333" stroke-width="0.9"/>
<line x1="149.8" y1="875.4" x2="149.8" y2="877.3" stroke="#333" stroke-width="0.9"/>
<line x1="171.05" y1="875.4" x2="171.05" y2="877.3" stroke="#333" stroke-width="0.9"/>
<line x1="192.3" y1="875.4" x2="192.3" y2="877.3" stroke="#333" stroke-width="0.9"/>
<line x1="213.55" y1="875.4" x2="213.55" y2="877.3" stroke="#333" stroke-width="0.9"/>
<line x1="234.8" y1="875.4" x2="234.8" y2="877.3" stroke="#333" stroke-width="0.9"/>
<line x1="56" y1="832.5" x2="119.4" y2="832.5" stroke="#777" stroke-width="1"/>
<line x1="56" y1="829.7" x2="56" y2="835.4" stroke="#777" stroke-width="1"/>
<text x="87.7" y="838" font-family="'Liberation Sans',sans-serif" font-size="3.5" text-anchor="middle" fill="#555">M1</text>
<line x1="171.3" y1="832.5" x2="235.1" y2="832.5" stroke="#777" stroke-width="1"/>
<line x1="171.3" y1="829.7" x2="171.3" y2="835.4" stroke="#777" stroke-width="1"/>
<text x="203.2" y="838" font-family="'Liberation Sans',sans-serif" font-size="3.5" text-anchor="middle" fill="#555">M1</text>
<text x="92.5" y="807.5" font-family="'Liberation Sans',sans-serif" font-size="13" font-weight="bold" text-anchor="middle" >+/+</text>
<text x="204.3" y="807.5" font-family="'Liberation Sans',sans-serif" font-size="13" font-weight="bold" text-anchor="middle" >-/-</text>
<text x="91.7" y="829.1" font-family="'Liberation Serif',serif" font-size="14.5" text-anchor="middle" >2.2%</text>
<text x="204.5" y="829.1" font-family="'Liberation Serif',serif" font-size="14.5" text-anchor="middle" >14.5%</text>
<text x="33.75" y="880" font-family="'Liberation Sans',sans-serif" font-size="5" font-weight="bold" text-anchor="middle" fill="#333">10<tspan dy="-2" font-size="3.6">0</tspan></text>
<text x="55" y="880" font-family="'Liberation Sans',sans-serif" font-size="5" font-weight="bold" text-anchor="middle" fill="#333">10<tspan dy="-2" font-size="3.6">1</tspan></text>
<text x="77" y="880" font-family="'Liberation Sans',sans-serif" font-size="5" font-weight="bold" text-anchor="middle" fill="#333">10<tspan dy="-2" font-size="3.6">2</tspan></text>
<text x="99.3" y="880" font-family="'Liberation Sans',sans-serif" font-size="5" font-weight="bold" text-anchor="middle" fill="#333">10<tspan dy="-2" font-size="3.6">3</tspan></text>
<text x="119.4" y="880" font-family="'Liberation Sans',sans-serif" font-size="5" font-weight="bold" text-anchor="middle" fill="#333">10<tspan dy="-2" font-size="3.6">4</tspan></text>
<text x="149" y="880" font-family="'Liberation Sans',sans-serif" font-size="5" font-weight="bold" text-anchor="middle" fill="#333">10<tspan dy="-2" font-size="3.6">0</tspan></text>
<text x="170.5" y="880" font-family="'Liberation Sans',sans-serif" font-size="5" font-weight="bold" text-anchor="middle" fill="#333">10<tspan dy="-2" font-size="3.6">1</tspan></text>
<text x="193" y="880" font-family="'Liberation Sans',sans-serif" font-size="5" font-weight="bold" text-anchor="middle" fill="#333">10<tspan dy="-2" font-size="3.6">2</tspan></text>
<text x="215" y="880" font-family="'Liberation Sans',sans-serif" font-size="5" font-weight="bold" text-anchor="middle" fill="#333">10<tspan dy="-2" font-size="3.6">3</tspan></text>
<text x="235.5" y="880" font-family="'Liberation Sans',sans-serif" font-size="5" font-weight="bold" text-anchor="middle" fill="#333">10<tspan dy="-2" font-size="3.6">4</tspan></text>
<text x="77" y="883.5" font-family="'Liberation Sans',sans-serif" font-size="4.2" font-weight="bold" text-anchor="middle" fill="#444">FL1</text>
<text x="193" y="883.5" font-family="'Liberation Sans',sans-serif" font-size="4.2" font-weight="bold" text-anchor="middle" fill="#444">FL1</text>
<text transform="translate(29.8,795) rotate(-90)" font-family="'Liberation Sans',sans-serif" font-size="5" font-weight="bold" text-anchor="middle" fill="#333">80</text>
<text transform="translate(29.8,811) rotate(-90)" font-family="'Liberation Sans',sans-serif" font-size="5" font-weight="bold" text-anchor="middle" fill="#333">64</text>
<text transform="translate(29.8,827) rotate(-90)" font-family="'Liberation Sans',sans-serif" font-size="5" font-weight="bold" text-anchor="middle" fill="#333">48</text>
<text transform="translate(29.8,843) rotate(-90)" font-family="'Liberation Sans',sans-serif" font-size="5" font-weight="bold" text-anchor="middle" fill="#333">32</text>
<text transform="translate(29.8,859) rotate(-90)" font-family="'Liberation Sans',sans-serif" font-size="5" font-weight="bold" text-anchor="middle" fill="#333">16</text>
<text transform="translate(29.8,875) rotate(-90)" font-family="'Liberation Sans',sans-serif" font-size="5" font-weight="bold" text-anchor="middle" fill="#333">0</text>
<text transform="translate(145.5,795) rotate(-90)" font-family="'Liberation Sans',sans-serif" font-size="5" font-weight="bold" text-anchor="middle" fill="#333">80</text>
<text transform="translate(145.5,811) rotate(-90)" font-family="'Liberation Sans',sans-serif" font-size="5" font-weight="bold" text-anchor="middle" fill="#333">64</text>
<text transform="translate(145.5,827) rotate(-90)" font-family="'Liberation Sans',sans-serif" font-size="5" font-weight="bold" text-anchor="middle" fill="#333">48</text>
<text transform="translate(145.5,843) rotate(-90)" font-family="'Liberation Sans',sans-serif" font-size="5" font-weight="bold" text-anchor="middle" fill="#333">32</text>
<text transform="translate(145.5,859) rotate(-90)" font-family="'Liberation Sans',sans-serif" font-size="5" font-weight="bold" text-anchor="middle" fill="#333">16</text>
<text transform="translate(145.5,875) rotate(-90)" font-family="'Liberation Sans',sans-serif" font-size="5" font-weight="bold" text-anchor="middle" fill="#333">0</text>
<line x1="299" y1="715.4" x2="299" y2="852.9" stroke="#000" stroke-width="1.5"/>
<line x1="296.3" y1="715.4" x2="299" y2="715.4" stroke="#000" stroke-width="1.5"/>
<text x="294.4" y="720.6" font-family="'Liberation Sans',sans-serif" font-size="11.2" stroke="#000" stroke-width="0.3" text-anchor="end" >15</text>
<line x1="296.3" y1="761.5" x2="299" y2="761.5" stroke="#000" stroke-width="1.5"/>
<text x="294.4" y="766.7" font-family="'Liberation Sans',sans-serif" font-size="11.2" stroke="#000" stroke-width="0.3" text-anchor="end" >10</text>
<line x1="296.3" y1="807.1" x2="299" y2="807.1" stroke="#000" stroke-width="1.5"/>
<text x="294.4" y="812.3000000000001" font-family="'Liberation Sans',sans-serif" font-size="11.2" stroke="#000" stroke-width="0.3" text-anchor="end" >5</text>
<line x1="296.3" y1="852.9" x2="299" y2="852.9" stroke="#000" stroke-width="1.5"/>
<text x="294.4" y="858.1" font-family="'Liberation Sans',sans-serif" font-size="11.2" stroke="#000" stroke-width="0.3" text-anchor="end" >0</text>
<line x1="298" y1="853.1" x2="518.5" y2="853.1" stroke="#000" stroke-width="1.5"/>
<line x1="316.04999999999995" y1="842.7" x2="316.04999999999995" y2="845.2" stroke="#000" stroke-width="1.2"/>
<line x1="312.29999999999995" y1="842.7" x2="319.79999999999995" y2="842.7" stroke="#000" stroke-width="1.4"/>
<rect x="308.45" y="845.95" width="15.199999999999989" height="7.149999999999977" fill="#fff" stroke="#000" stroke-width="1.5"/>
<line x1="342.4" y1="840.4" x2="342.4" y2="843.3" stroke="#000" stroke-width="1.2"/>
<line x1="338.65" y1="840.4" x2="346.15" y2="840.4" stroke="#000" stroke-width="1.4"/>
<rect x="334.75" y="844.05" width="15.300000000000011" height="9.050000000000068" fill="#000" stroke="#000" stroke-width="1.5"/>
<line x1="394.75" y1="823.1" x2="394.75" y2="825.2" stroke="#000" stroke-width="1.2"/>
<line x1="391.0" y1="823.1" x2="398.5" y2="823.1" stroke="#000" stroke-width="1.4"/>
<rect x="386.25" y="825.95" width="17.0" height="27.149999999999977" fill="#fff" stroke="#000" stroke-width="1.5"/>
<line x1="421.55" y1="774.5" x2="421.55" y2="780.9" stroke="#000" stroke-width="1.2"/>
<line x1="417.25" y1="774.5" x2="425.85" y2="774.5" stroke="#000" stroke-width="1.4"/>
<rect x="413.05" y="781.65" width="17.0" height="71.45000000000005" fill="#000" stroke="#000" stroke-width="1.5"/>
<line x1="474.6" y1="829.2" x2="474.6" y2="831.7" stroke="#000" stroke-width="1.2"/>
<line x1="470.85" y1="829.2" x2="478.35" y2="829.2" stroke="#000" stroke-width="1.4"/>
<rect x="466.25" y="832.45" width="16.69999999999999" height="20.649999999999977" fill="#fff" stroke="#000" stroke-width="1.5"/>
<line x1="500.95" y1="722.5" x2="500.95" y2="726.8" stroke="#000" stroke-width="1.2"/>
<line x1="496.84999999999997" y1="722.5" x2="505.05" y2="722.5" stroke="#000" stroke-width="1.4"/>
<rect x="492.45" y="727.55" width="17.0" height="125.55000000000007" fill="#000" stroke="#000" stroke-width="1.5"/>
<text x="418.1" y="768.3" font-family="'Liberation Serif',serif" font-size="15" stroke="#000" stroke-width="0.3" text-anchor="middle" fill="#333">*</text>
<text x="497.1" y="717.8" font-family="'Liberation Serif',serif" font-size="15" stroke="#000" stroke-width="0.3" text-anchor="middle" fill="#333">**</text>
<rect x="313.05" y="715.85" width="14.8" height="5.8" fill="#fff" stroke="#000" stroke-width="1.3"/>
<rect x="312.2" y="736.5" width="16.8" height="6.3" fill="#000" stroke="none" stroke-width="0"/>
<text x="332.5" y="722.5" font-family="'Liberation Sans',sans-serif" font-size="13" stroke="#000" stroke-width="0.15" text-anchor="start" >+/+</text>
<text x="335.2" y="743.3" font-family="'Liberation Sans',sans-serif" font-size="13" stroke="#000" stroke-width="0.15" text-anchor="start" >-/-</text>
<text x="328.5" y="869.8" font-family="'Liberation Serif',serif" font-size="12.5" text-anchor="middle" >0</text>
<text x="407.5" y="869.8" font-family="'Liberation Serif',serif" font-size="12.5" text-anchor="middle" >2</text>
<text x="486.5" y="869.8" font-family="'Liberation Serif',serif" font-size="12.5" text-anchor="middle" >4</text>
<text x="410.4" y="889" font-family="'Liberation Serif',serif" font-size="14.8" font-weight="bold" text-anchor="middle" >Culture times (days)</text>
<text x="0" y="0" font-family="'Liberation Sans',sans-serif" font-size="10.5" font-weight="bold" text-anchor="middle" transform="translate(271.8,781.7) rotate(-90) scale(0.874,1)">% of Apoptotic Scal1+c-kit+ Cells</text>
</svg>
</body></html>
